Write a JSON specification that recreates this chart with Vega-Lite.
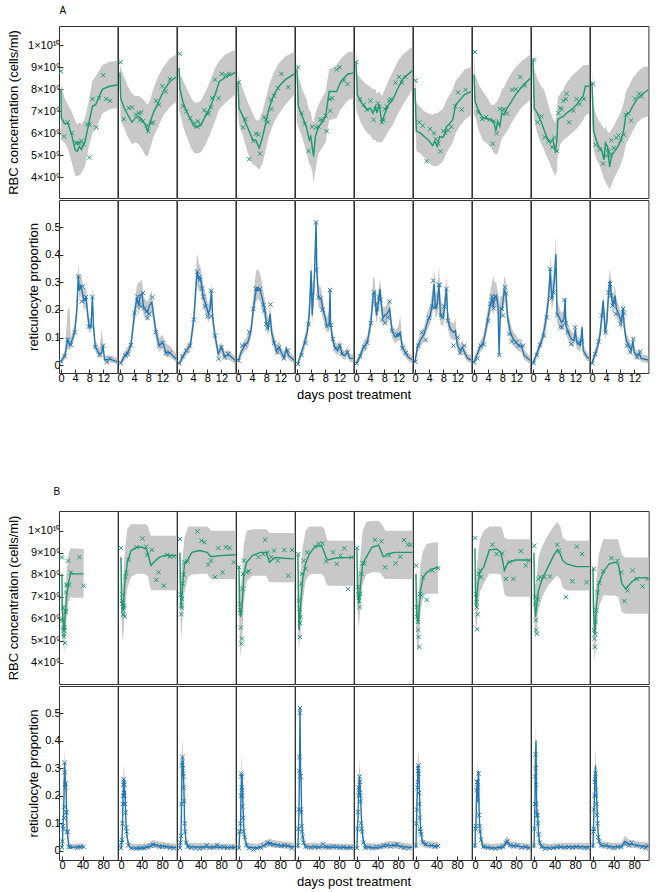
{
"$schema":"https://vega.github.io/schema/vega-lite/v6.json",
"padding":{"top":5,"left":7,"right":0,"bottom":0},
"config":{"font":"Liberation Sans","view":{"stroke":"#333","strokeWidth":1},
"axis":{"labelFontSize":11,"labelColor":"#000","titleFontSize":13,"titleFontWeight":"normal","titleColor":"#000","tickColor":"#333","tickSize":-4,"domain":false,"grid":false,"labelPadding":3,"labelFlush":false,"labelOverlap":false}},
"datasets":{
"ar":[
{"p":1,"t":0,"f":8e9,"l":6e9,"h":8.6e9},{"p":1,"t":0.1,"f":6.7e9,"l":5.7e9,"h":8.2e9},{"p":1,"t":1,"f":6.45e9,"l":5.6e9,"h":7.6e9},{"p":1,"t":2,"f":6.45e9,"l":5.3e9,"h":7.3e9},{"p":1,"t":3,"f":5.95e9,"l":4.7e9,"h":7e9},{"p":1,"t":4,"f":5.25e9,"l":4.1e9,"h":6.6e9},{"p":1,"t":4.6,"f":5.18e9,"l":4.05e9,"h":6.4e9},{"p":1,"t":5.2,"f":5.4e9,"l":4.1e9,"h":6.5e9},{"p":1,"t":5.8,"f":5.26e9,"l":4.2e9,"h":6.4e9},{"p":1,"t":6.8,"f":5.64e9,"l":4.5e9,"h":6.7e9},{"p":1,"t":7.9,"f":6.47e9,"l":5.4e9,"h":7.5e9},{"p":1,"t":8.9,"f":7.23e9,"l":6e9,"h":8.4e9},{"p":1,"t":9.8,"f":7.3e9,"l":6.2e9,"h":8.6e9},{"p":1,"t":11.7,"f":8e9,"l":6.9e9,"h":9.1e9},{"p":1,"t":13.7,"f":8.14e9,"l":7.1e9,"h":9.25e9},{"p":1,"t":15.95,"f":8.2e9,"l":7.15e9,"h":9.3e9},
{"p":1,"t":0,"o":8.82e9},{"p":1,"t":0.9,"o":5.86e9},{"p":1,"t":1.9,"o":6.5e9},{"p":1,"t":3.05,"o":6.02e9},{"p":1,"t":4.3,"o":5.56e9},{"p":1,"t":4.7,"o":5.56e9},{"p":1,"t":5.2,"o":5.56e9},{"p":1,"t":5.8,"o":5.65e9},{"p":1,"t":6.4,"o":5.5e9},{"p":1,"t":8,"o":4.9e9},{"p":1,"t":7.4,"o":6.4e9},{"p":1,"t":8.1,"o":6.4e9},{"p":1,"t":8.9,"o":7.56e9},{"p":1,"t":10,"o":6.27e9},{"p":1,"t":10.7,"o":7.6e9},{"p":1,"t":11.9,"o":8.64e9},{"p":1,"t":12.8,"o":7.56e9},{"p":1,"t":13.9,"o":7.48e9},
{"p":2,"t":0,"f":8.77e9,"l":7.6e9,"h":9.2e9},{"p":2,"t":0.2,"f":7.6e9,"l":6.6e9,"h":9e9},{"p":2,"t":1.1,"f":7.2e9,"l":6.3e9,"h":8.6e9},{"p":2,"t":2,"f":6.9e9,"l":5.9e9,"h":8.2e9},{"p":2,"t":3.4,"f":6.5e9,"l":5.5e9,"h":7.8e9},{"p":2,"t":4.35,"f":6.7e9,"l":5.6e9,"h":7.7e9},{"p":2,"t":5.3,"f":6.77e9,"l":5.5e9,"h":7.7e9},{"p":2,"t":6.2,"f":6.62e9,"l":5.3e9,"h":7.6e9},{"p":2,"t":7.1,"f":6.4e9,"l":5e9,"h":7.45e9},{"p":2,"t":7.8,"f":6.1e9,"l":4.95e9,"h":7.3e9},{"p":2,"t":8.5,"f":6.47e9,"l":5.3e9,"h":7.5e9},{"p":2,"t":9.4,"f":6.92e9,"l":5.8e9,"h":8e9},{"p":2,"t":10.8,"f":7.38e9,"l":6.3e9,"h":8.6e9},{"p":2,"t":12.2,"f":7.9e9,"l":6.8e9,"h":9e9},{"p":2,"t":14.1,"f":8.36e9,"l":7.2e9,"h":9.4e9},{"p":2,"t":15.95,"f":8.56e9,"l":7.45e9,"h":9.6e9},
{"p":2,"t":0.2,"o":9.23e9},{"p":2,"t":1.1,"o":6.65e9},{"p":2,"t":2.5,"o":7.15e9},{"p":2,"t":3.4,"o":7.18e9},{"p":2,"t":4.5,"o":6.85e9},{"p":2,"t":5.3,"o":6.92e9},{"p":2,"t":6,"o":6.95e9},{"p":2,"t":5.6,"o":6.6e9},{"p":2,"t":6.5,"o":6.55e9},{"p":2,"t":7.6,"o":6.35e9},{"p":2,"t":8,"o":6.1e9},{"p":2,"t":8.8,"o":6.47e9},{"p":2,"t":9.4,"o":6.5e9},{"p":2,"t":10.2,"o":7.48e9},{"p":2,"t":11,"o":7.3e9},{"p":2,"t":12,"o":8.14e9},{"p":2,"t":12.96,"o":7.9e9},{"p":2,"t":14.1,"o":8.47e9},
{"p":3,"t":0,"f":8.97e9,"l":7e9,"h":9.8e9},{"p":3,"t":0.3,"f":8e9,"l":6.9e9,"h":8.7e9},{"p":3,"t":1.2,"f":7.38e9,"l":6.3e9,"h":8.4e9},{"p":3,"t":2.3,"f":6.95e9,"l":5.8e9,"h":8e9},{"p":3,"t":3.5,"f":6.55e9,"l":5.3e9,"h":7.6e9},{"p":3,"t":4.4,"f":6.3e9,"l":5.1e9,"h":7.4e9},{"p":3,"t":5.4,"f":6.3e9,"l":5.1e9,"h":7.4e9},{"p":3,"t":6.3,"f":6.4e9,"l":5.15e9,"h":7.5e9},{"p":3,"t":7.2,"f":6.7e9,"l":5.4e9,"h":7.8e9},{"p":3,"t":8.1,"f":6.95e9,"l":5.7e9,"h":8.1e9},{"p":3,"t":9.1,"f":7.3e9,"l":6.1e9,"h":8.5e9},{"p":3,"t":10.3,"f":7.8e9,"l":6.6e9,"h":9e9},{"p":3,"t":11.4,"f":8.36e9,"l":7.1e9,"h":9.3e9},{"p":3,"t":13.2,"f":8.55e9,"l":7.4e9,"h":9.6e9},{"p":3,"t":15.95,"f":8.77e9,"l":7.76e9,"h":9.8e9},
{"p":3,"t":0.2,"o":9.62e9},{"p":3,"t":1.2,"o":7.23e9},{"p":3,"t":2.1,"o":7e9},{"p":3,"t":3.2,"o":6.7e9},{"p":3,"t":4.4,"o":6.47e9},{"p":3,"t":5.4,"o":6.55e9},{"p":3,"t":6,"o":6.4e9},{"p":3,"t":5.1,"o":6.3e9},{"p":3,"t":7.2,"o":7.05e9},{"p":3,"t":7.9,"o":6.9e9},{"p":3,"t":8.4,"o":6.92e9},{"p":3,"t":9.35,"o":7.6e9},{"p":3,"t":9.1,"o":7.18e9},{"p":3,"t":10.2,"o":8.44e9},{"p":3,"t":11.2,"o":7.6e9},{"p":3,"t":12.1,"o":8.7e9},{"p":3,"t":13.2,"o":8.64e9},{"p":3,"t":14.2,"o":8.7e9},
{"p":4,"t":0,"f":8.3e9,"l":7e9,"h":8.7e9},{"p":4,"t":0.3,"f":7.15e9,"l":6.4e9,"h":8.5e9},{"p":4,"t":1.4,"f":6.77e9,"l":5.9e9,"h":8e9},{"p":4,"t":2.8,"f":6.24e9,"l":5.1e9,"h":7.4e9},{"p":4,"t":4.2,"f":5.7e9,"l":4.6e9,"h":6.9e9},{"p":4,"t":5.1,"f":5.68e9,"l":4.5e9,"h":6.6e9},{"p":4,"t":6,"f":5.33e9,"l":4.35e9,"h":6.6e9},{"p":4,"t":6.9,"f":5.8e9,"l":4.6e9,"h":7e9},{"p":4,"t":7.9,"f":6.5e9,"l":5.3e9,"h":7.6e9},{"p":4,"t":8.8,"f":7.15e9,"l":5.9e9,"h":8.2e9},{"p":4,"t":10.2,"f":7.76e9,"l":6.5e9,"h":8.8e9},{"p":4,"t":11.6,"f":8.14e9,"l":6.9e9,"h":9.2e9},{"p":4,"t":13.4,"f":8.44e9,"l":7.3e9,"h":9.5e9},{"p":4,"t":15.95,"f":8.7e9,"l":7.76e9,"h":9.7e9},
{"p":4,"t":0.2,"o":8.32e9},{"p":4,"t":1.4,"o":6.27e9},{"p":4,"t":2.1,"o":6.65e9},{"p":4,"t":3.2,"o":4.83e9},{"p":4,"t":4.35,"o":5.64e9},{"p":4,"t":5.1,"o":5.98e9},{"p":4,"t":5.8,"o":5.94e9},{"p":4,"t":6.2,"o":5.08e9},{"p":4,"t":7.4,"o":6.73e9},{"p":4,"t":7.9,"o":6.62e9},{"p":4,"t":8.5,"o":6.5e9},{"p":4,"t":9.3,"o":7.53e9},{"p":4,"t":9.5,"o":7.1e9},{"p":4,"t":10.2,"o":7.7e9},{"p":4,"t":11.3,"o":8.06e9},{"p":4,"t":12.3,"o":8.7e9},{"p":4,"t":14.2,"o":8.1e9},
{"p":5,"t":0,"f":8.9e9,"l":6.5e9,"h":9.5e9},{"p":5,"t":0.4,"f":7.23e9,"l":6.3e9,"h":8.6e9},{"p":5,"t":1.5,"f":6.77e9,"l":5.8e9,"h":8e9},{"p":5,"t":2.6,"f":6.32e9,"l":5.2e9,"h":7.6e9},{"p":5,"t":3.5,"f":5.7e9,"l":4.6e9,"h":7e9},{"p":5,"t":3.9,"f":5.86e9,"l":4.5e9,"h":7e9},{"p":5,"t":4.3,"f":5.4e9,"l":4.3e9,"h":6.6e9},{"p":5,"t":4.7,"f":4.95e9,"l":3.75e9,"h":6.5e9},{"p":5,"t":5.2,"f":5.86e9,"l":4.3e9,"h":6.9e9},{"p":5,"t":6.1,"f":6.3e9,"l":5.1e9,"h":7.3e9},{"p":5,"t":7,"f":6.47e9,"l":5.3e9,"h":7.6e9},{"p":5,"t":8.1,"f":6.77e9,"l":5.6e9,"h":7.9e9},{"p":5,"t":9.1,"f":7.9e9,"l":6.6e9,"h":8.9e9},{"p":5,"t":11.2,"f":7.9e9,"l":6.7e9,"h":9.1e9},{"p":5,"t":12.4,"f":8.36e9,"l":7.1e9,"h":9.4e9},{"p":5,"t":14.4,"f":8.7e9,"l":7.5e9,"h":9.7e9},{"p":5,"t":15.95,"f":8.74e9,"l":7.6e9,"h":9.7e9},
{"p":5,"t":0.3,"o":9e9},{"p":5,"t":1.3,"o":6.92e9},{"p":5,"t":2.2,"o":6.42e9},{"p":5,"t":3.3,"o":5.2e9},{"p":5,"t":4.3,"o":6.3e9},{"p":5,"t":5.4,"o":6.27e9},{"p":5,"t":6.1,"o":6.3e9},{"p":5,"t":6.6,"o":6.62e9},{"p":5,"t":7.2,"o":6.62e9},{"p":5,"t":8.1,"o":6.8e9},{"p":5,"t":8.4,"o":6.1e9},{"p":5,"t":9.35,"o":7.56e9},{"p":5,"t":10,"o":7.6e9},{"p":5,"t":9.4,"o":7.03e9},{"p":5,"t":11.2,"o":8.9e9},{"p":5,"t":12.1,"o":9e9},{"p":5,"t":13.3,"o":8.4e9},{"p":5,"t":14.3,"o":8.24e9},
{"p":6,"t":0,"f":9.2e9,"l":7.2e9,"h":9.9e9},{"p":6,"t":0.4,"f":7.76e9,"l":6.9e9,"h":8.7e9},{"p":6,"t":1.3,"f":7.45e9,"l":6.5e9,"h":8.5e9},{"p":6,"t":2.4,"f":7.23e9,"l":6.2e9,"h":8.3e9},{"p":6,"t":3.3,"f":7.05e9,"l":6e9,"h":8.2e9},{"p":6,"t":4.1,"f":7.15e9,"l":5.9e9,"h":8.1e9},{"p":6,"t":4.8,"f":6.92e9,"l":5.7e9,"h":8e9},{"p":6,"t":5.5,"f":7.23e9,"l":5.7e9,"h":8e9},{"p":6,"t":5.9,"f":6.92e9,"l":5.6e9,"h":7.8e9},{"p":6,"t":6.6,"f":7.3e9,"l":5.6e9,"h":7.9e9},{"p":6,"t":7.3,"f":6.47e9,"l":5.6e9,"h":7.7e9},{"p":6,"t":8.2,"f":6.92e9,"l":5.8e9,"h":8e9},{"p":6,"t":9.2,"f":7.3e9,"l":6.1e9,"h":8.4e9},{"p":6,"t":10.4,"f":7.53e9,"l":6.4e9,"h":8.8e9},{"p":6,"t":11.9,"f":8.06e9,"l":6.9e9,"h":9.3e9},{"p":6,"t":13.3,"f":8.5e9,"l":7.3e9,"h":9.6e9},{"p":6,"t":15.95,"f":8.85e9,"l":7.98e9,"h":9.95e9},
{"p":6,"t":0.1,"o":9.24e9},{"p":6,"t":1.1,"o":7.56e9},{"p":6,"t":2.2,"o":7.3e9},{"p":6,"t":3.1,"o":7.08e9},{"p":6,"t":4.1,"o":7.48e9},{"p":6,"t":5,"o":6.62e9},{"p":6,"t":5.5,"o":7.1e9},{"p":6,"t":6.2,"o":7.35e9},{"p":6,"t":6.6,"o":7.23e9},{"p":6,"t":7.3,"o":6.5e9},{"p":6,"t":7.8,"o":6.6e9},{"p":6,"t":8.2,"o":7.1e9},{"p":6,"t":8.7,"o":7.23e9},{"p":6,"t":9.4,"o":7.48e9},{"p":6,"t":9.8,"o":7.56e9},{"p":6,"t":11.2,"o":8.3e9},{"p":6,"t":12.2,"o":8.56e9},{"p":6,"t":13,"o":8.3e9},{"p":6,"t":14,"o":8.56e9},
{"p":7,"t":0,"f":8.06e9,"l":7e9,"h":9.1e9},{"p":7,"t":0.4,"f":6.1e9,"l":5.2e9,"h":7.4e9},{"p":7,"t":1.5,"f":6.02e9,"l":5.1e9,"h":7.2e9},{"p":7,"t":2.6,"f":5.86e9,"l":4.9e9,"h":7e9},{"p":7,"t":3.8,"f":5.7e9,"l":4.7e9,"h":6.9e9},{"p":7,"t":5,"f":5.44e9,"l":4.5e9,"h":6.85e9},{"p":7,"t":5.6,"f":5.64e9,"l":4.5e9,"h":6.9e9},{"p":7,"t":6.3,"f":5.4e9,"l":4.5e9,"h":6.9e9},{"p":7,"t":7,"f":5.86e9,"l":4.6e9,"h":7e9},{"p":7,"t":7.8,"f":5.8e9,"l":4.7e9,"h":7.1e9},{"p":7,"t":8.4,"f":5.94e9,"l":4.9e9,"h":7.3e9},{"p":7,"t":8.9,"f":6.3e9,"l":5.1e9,"h":7.5e9},{"p":7,"t":9.6,"f":6.4e9,"l":5.3e9,"h":7.7e9},{"p":7,"t":10.7,"f":6.62e9,"l":5.6e9,"h":8e9},{"p":7,"t":11.5,"f":7.3e9,"l":6e9,"h":8.4e9},{"p":7,"t":12.6,"f":7.5e9,"l":6.3e9,"h":8.6e9},{"p":7,"t":14,"f":7.76e9,"l":6.6e9,"h":8.9e9},{"p":7,"t":15.95,"f":7.9e9,"l":6.85e9,"h":9e9},
{"p":7,"t":0.2,"o":8.4e9},{"p":7,"t":1.2,"o":6.5e9},{"p":7,"t":2.2,"o":6.35e9},{"p":7,"t":3.3,"o":4.73e9},{"p":7,"t":4.3,"o":6.2e9},{"p":7,"t":5.4,"o":6e9},{"p":7,"t":5.9,"o":5.74e9},{"p":7,"t":6.6,"o":5.53e9},{"p":7,"t":7.2,"o":5.18e9},{"p":7,"t":8,"o":6.1e9},{"p":7,"t":8.6,"o":6.02e9},{"p":7,"t":9.4,"o":6.14e9},{"p":7,"t":10.3,"o":6.3e9},{"p":7,"t":11.4,"o":7.23e9},{"p":7,"t":12.2,"o":7.86e9},{"p":7,"t":13.2,"o":7.08e9},{"p":7,"t":14.3,"o":7.98e9},
{"p":8,"t":0,"f":8.67e9,"l":6.8e9,"h":9.7e9},{"p":8,"t":0.3,"f":7.45e9,"l":6.8e9,"h":8.7e9},{"p":8,"t":1.4,"f":7e9,"l":6.1e9,"h":8.2e9},{"p":8,"t":2.5,"f":6.7e9,"l":5.7e9,"h":7.9e9},{"p":8,"t":3.9,"f":6.65e9,"l":5.5e9,"h":7.6e9},{"p":8,"t":4.8,"f":6.62e9,"l":5.35e9,"h":7.3e9},{"p":8,"t":5.7,"f":6.47e9,"l":5.1e9,"h":7.3e9},{"p":8,"t":6.2,"f":6.1e9,"l":5.03e9,"h":7.4e9},{"p":8,"t":6.7,"f":6.55e9,"l":5.1e9,"h":7.5e9},{"p":8,"t":7.3,"f":6.32e9,"l":5.4e9,"h":7.7e9},{"p":8,"t":7.9,"f":6.92e9,"l":5.8e9,"h":8e9},{"p":8,"t":8.5,"f":6.85e9,"l":5.9e9,"h":8.1e9},{"p":8,"t":9.4,"f":7.15e9,"l":6.1e9,"h":8.4e9},{"p":8,"t":10.4,"f":7.4e9,"l":6.4e9,"h":8.7e9},{"p":8,"t":11.8,"f":7.76e9,"l":6.8e9,"h":9e9},{"p":8,"t":13.6,"f":8.14e9,"l":7.2e9,"h":9.3e9},{"p":8,"t":15.95,"f":8.5e9,"l":7.53e9,"h":9.58e9},
{"p":8,"t":0.3,"o":9.7e9},{"p":8,"t":1.2,"o":6.95e9},{"p":8,"t":2.3,"o":6.65e9},{"p":8,"t":3.4,"o":6.74e9},{"p":8,"t":4.4,"o":6.62e9},{"p":8,"t":5.3,"o":5.53e9},{"p":8,"t":5.7,"o":6.55e9},{"p":8,"t":6.4,"o":6e9},{"p":8,"t":7.3,"o":7.1e9},{"p":8,"t":8.1,"o":7.05e9},{"p":8,"t":8.5,"o":7.1e9},{"p":8,"t":9.4,"o":6.9e9},{"p":8,"t":10.8,"o":7.98e9},{"p":8,"t":11.8,"o":8e9},{"p":8,"t":13.1,"o":8.56e9},{"p":8,"t":14.4,"o":8.17e9},
{"p":9,"t":0,"f":9.35e9,"l":7.1e9,"h":9.6e9},{"p":9,"t":0.4,"f":7.15e9,"l":6.6e9,"h":8.9e9},{"p":9,"t":1.2,"f":6.92e9,"l":6e9,"h":8.5e9},{"p":9,"t":2.1,"f":6.62e9,"l":5.6e9,"h":8.2e9},{"p":9,"t":3.1,"f":6.17e9,"l":5.26e9,"h":8e9},{"p":9,"t":4,"f":5.8e9,"l":4.9e9,"h":7.5e9},{"p":9,"t":4.9,"f":5.56e9,"l":4.6e9,"h":7e9},{"p":9,"t":5.6,"f":5.74e9,"l":4.3e9,"h":6.7e9},{"p":9,"t":6.3,"f":5.18e9,"l":4.05e9,"h":6.47e9},{"p":9,"t":6.8,"f":5.7e9,"l":4.3e9,"h":7e9},{"p":9,"t":7,"f":6.62e9,"l":5e9,"h":7.6e9},{"p":9,"t":7.7,"f":6.7e9,"l":5.5e9,"h":7.8e9},{"p":9,"t":8.6,"f":6.77e9,"l":5.7e9,"h":8e9},{"p":9,"t":9.5,"f":6.92e9,"l":5.8e9,"h":8.3e9},{"p":9,"t":10.9,"f":7.08e9,"l":6e9,"h":8.6e9},{"p":9,"t":12.3,"f":7.3e9,"l":6.2e9,"h":8.8e9},{"p":9,"t":14.2,"f":7.7e9,"l":6.6e9,"h":9.1e9},{"p":9,"t":14.8,"f":8.14e9,"l":6.8e9,"h":9.1e9},{"p":9,"t":15.95,"f":8.14e9,"l":6.92e9,"h":9.12e9},
{"p":9,"t":0.3,"o":9.35e9},{"p":9,"t":1.3,"o":6.5e9},{"p":9,"t":2.4,"o":6.77e9},{"p":9,"t":3.3,"o":5.82e9},{"p":9,"t":4.4,"o":5.64e9},{"p":9,"t":5.4,"o":5.38e9},{"p":9,"t":6.1,"o":5.8e9},{"p":9,"t":6.8,"o":5.2e9},{"p":9,"t":7.2,"o":6.92e9},{"p":9,"t":7.7,"o":7.15e9},{"p":9,"t":8.1,"o":7.1e9},{"p":9,"t":8.6,"o":7.48e9},{"p":9,"t":9.3,"o":7.56e9},{"p":9,"t":9.5,"o":7.8e9},{"p":9,"t":10.2,"o":6.5e9},{"p":9,"t":11.4,"o":7.03e9},{"p":9,"t":12.3,"o":7.56e9},{"p":9,"t":13.2,"o":7.33e9},{"p":9,"t":14.4,"o":7.56e9},
{"p":10,"t":0,"f":8.3e9,"l":6.47e9,"h":8.9e9},{"p":10,"t":0.5,"f":6.1e9,"l":5.2e9,"h":7.2e9},{"p":10,"t":1.3,"f":5.64e9,"l":4.8e9,"h":6.8e9},{"p":10,"t":1.9,"f":5.4e9,"l":4.65e9,"h":6.6e9},{"p":10,"t":2.7,"f":5.26e9,"l":4.3e9,"h":6.4e9},{"p":10,"t":3.4,"f":4.8e9,"l":3.9e9,"h":6.2e9},{"p":10,"t":3.8,"f":5.56e9,"l":3.8e9,"h":6.3e9},{"p":10,"t":4.4,"f":5.4e9,"l":3.6e9,"h":6.1e9},{"p":10,"t":5,"f":4.47e9,"l":3.44e9,"h":6e9},{"p":10,"t":5.6,"f":5.03e9,"l":3.7e9,"h":6.2e9},{"p":10,"t":6.4,"f":5.18e9,"l":4e9,"h":6.4e9},{"p":10,"t":7.3,"f":5.4e9,"l":4.3e9,"h":6.7e9},{"p":10,"t":8.2,"f":5.7e9,"l":4.6e9,"h":7e9},{"p":10,"t":9,"f":6.17e9,"l":5e9,"h":7.4e9},{"p":10,"t":9.6,"f":6.85e9,"l":5.5e9,"h":7.9e9},{"p":10,"t":10.6,"f":6.95e9,"l":5.8e9,"h":8.2e9},{"p":10,"t":11.5,"f":7.23e9,"l":6.1e9,"h":8.5e9},{"p":10,"t":12.9,"f":7.6e9,"l":6.5e9,"h":8.8e9},{"p":10,"t":14.3,"f":7.8e9,"l":6.7e9,"h":9e9},{"p":10,"t":15.95,"f":7.98e9,"l":6.77e9,"h":9.05e9},
{"p":10,"t":0.3,"o":8.26e9},{"p":10,"t":1,"o":5.48e9},{"p":10,"t":2.2,"o":5.26e9},{"p":10,"t":3.1,"o":4.62e9},{"p":10,"t":4.1,"o":4.98e9},{"p":10,"t":4.4,"o":5.23e9},{"p":10,"t":4.8,"o":5.18e9},{"p":10,"t":5.3,"o":5.03e9},{"p":10,"t":5.5,"o":5.68e9},{"p":10,"t":6.2,"o":5.33e9},{"p":10,"t":6.9,"o":5.8e9},{"p":10,"t":7.5,"o":5.9e9},{"p":10,"t":8.2,"o":5.68e9},{"p":10,"t":9,"o":5.94e9},{"p":10,"t":9.6,"o":6.85e9},{"p":10,"t":10.3,"o":6.9e9},{"p":10,"t":11,"o":6.58e9},{"p":10,"t":12.1,"o":7.58e9},{"p":10,"t":13.3,"o":7.8e9},{"p":10,"t":14,"o":7.68e9}
],
"aq":[
{"p":1,"t":0,"f":0.014,"l":0.005,"h":0.025},{"p":1,"t":1.1,"f":0.035,"l":0.02,"h":0.05},{"p":1,"t":1.9,"f":0.092,"l":0.06,"h":0.2},{"p":1,"t":2.4,"f":0.075,"l":0.055,"h":0.21},{"p":1,"t":2.8,"f":0.078,"l":0.06,"h":0.1},{"p":1,"t":3.9,"f":0.12,"l":0.1,"h":0.15},{"p":1,"t":4.5,"f":0.2,"l":0.17,"h":0.26},{"p":1,"t":4.9,"f":0.322,"l":0.28,"h":0.37},{"p":1,"t":5.2,"f":0.27,"l":0.24,"h":0.32},{"p":1,"t":5.6,"f":0.29,"l":0.25,"h":0.33},{"p":1,"t":6.1,"f":0.26,"l":0.23,"h":0.3},{"p":1,"t":6.5,"f":0.235,"l":0.2,"h":0.28},{"p":1,"t":7.1,"f":0.245,"l":0.21,"h":0.28},{"p":1,"t":7.9,"f":0.14,"l":0.12,"h":0.17},{"p":1,"t":8.5,"f":0.14,"l":0.12,"h":0.17},{"p":1,"t":8.9,"f":0.247,"l":0.2,"h":0.29},{"p":1,"t":9.2,"f":0.14,"l":0.12,"h":0.17},{"p":1,"t":9.7,"f":0.066,"l":0.05,"h":0.09},{"p":1,"t":10.9,"f":0.04,"l":0.025,"h":0.06},{"p":1,"t":11.5,"f":0.045,"l":0.03,"h":0.13},{"p":1,"t":11.9,"f":0.071,"l":0.05,"h":0.09},{"p":1,"t":12.3,"f":0.02,"l":0.01,"h":0.035},{"p":1,"t":13.9,"f":0.022,"l":0.01,"h":0.035},{"p":1,"t":15.95,"f":0.012,"l":0.005,"h":0.025},
{"p":1,"t":0,"o":0.014},{"p":1,"t":1.1,"o":0.032},{"p":1,"t":1.9,"o":0.092},{"p":1,"t":2.8,"o":0.074},{"p":1,"t":3.9,"o":0.119},{"p":1,"t":4.9,"o":0.322},{"p":1,"t":5.4,"o":0.283},{"p":1,"t":6.1,"o":0.285},{"p":1,"t":5.9,"o":0.231},{"p":1,"t":6.7,"o":0.237},{"p":1,"t":7.1,"o":0.247},{"p":1,"t":7.9,"o":0.14},{"p":1,"t":8.5,"o":0.14},{"p":1,"t":8.9,"o":0.247},{"p":1,"t":9.7,"o":0.066},{"p":1,"t":10.9,"o":0.038},{"p":1,"t":11.9,"o":0.071},{"p":1,"t":13,"o":0.011},{"p":1,"t":13.9,"o":0.024},
{"p":2,"t":0.2,"f":0.008,"l":0,"h":0.02},{"p":2,"t":1.1,"f":0.029,"l":0.015,"h":0.045},{"p":2,"t":2.2,"f":0.047,"l":0.03,"h":0.065},{"p":2,"t":3.1,"f":0.071,"l":0.05,"h":0.095},{"p":2,"t":4.1,"f":0.186,"l":0.15,"h":0.22},{"p":2,"t":4.8,"f":0.246,"l":0.21,"h":0.29},{"p":2,"t":5.3,"f":0.216,"l":0.18,"h":0.3},{"p":2,"t":5.7,"f":0.252,"l":0.21,"h":0.3},{"p":2,"t":6.2,"f":0.258,"l":0.22,"h":0.31},{"p":2,"t":6.7,"f":0.21,"l":0.18,"h":0.25},{"p":2,"t":7.1,"f":0.204,"l":0.17,"h":0.24},{"p":2,"t":7.8,"f":0.19,"l":0.16,"h":0.23},{"p":2,"t":8.3,"f":0.216,"l":0.18,"h":0.25},{"p":2,"t":9,"f":0.228,"l":0.19,"h":0.27},{"p":2,"t":9.4,"f":0.19,"l":0.16,"h":0.22},{"p":2,"t":10.2,"f":0.119,"l":0.09,"h":0.14},{"p":2,"t":11.1,"f":0.071,"l":0.05,"h":0.1},{"p":2,"t":12,"f":0.083,"l":0.06,"h":0.11},{"p":2,"t":13,"f":0.047,"l":0.03,"h":0.08},{"p":2,"t":14.1,"f":0.045,"l":0.03,"h":0.07},{"p":2,"t":15.95,"f":0.022,"l":0.01,"h":0.04},
{"p":2,"t":0.2,"o":0.008},{"p":2,"t":1.6,"o":0.035},{"p":2,"t":2.2,"o":0.041},{"p":2,"t":3.1,"o":0.073},{"p":2,"t":4.1,"o":0.189},{"p":2,"t":5,"o":0.249},{"p":2,"t":5.5,"o":0.218},{"p":2,"t":6.5,"o":0.261},{"p":2,"t":5.9,"o":0.212},{"p":2,"t":6.85,"o":0.206},{"p":2,"t":7.4,"o":0.195},{"p":2,"t":7.8,"o":0.171},{"p":2,"t":8.3,"o":0.186},{"p":2,"t":9.2,"o":0.246},{"p":2,"t":10.1,"o":0.119},{"p":2,"t":11.1,"o":0.071},{"p":2,"t":12,"o":0.081},{"p":2,"t":13,"o":0.043},{"p":2,"t":14.1,"o":0.045},
{"p":3,"t":0.1,"f":0.005,"l":0,"h":0.015},{"p":3,"t":1,"f":0.029,"l":0.015,"h":0.045},{"p":3,"t":2.1,"f":0.053,"l":0.035,"h":0.07},{"p":3,"t":3.2,"f":0.071,"l":0.05,"h":0.09},{"p":3,"t":4.2,"f":0.167,"l":0.13,"h":0.2},{"p":3,"t":5.1,"f":0.339,"l":0.29,"h":0.408},{"p":3,"t":5.6,"f":0.312,"l":0.27,"h":0.37},{"p":3,"t":6,"f":0.318,"l":0.27,"h":0.36},{"p":3,"t":6.5,"f":0.282,"l":0.24,"h":0.33},{"p":3,"t":6.9,"f":0.246,"l":0.21,"h":0.29},{"p":3,"t":7.7,"f":0.216,"l":0.18,"h":0.25},{"p":3,"t":8.3,"f":0.186,"l":0.155,"h":0.22},{"p":3,"t":8.8,"f":0.204,"l":0.17,"h":0.25},{"p":3,"t":9.2,"f":0.27,"l":0.22,"h":0.3},{"p":3,"t":9.5,"f":0.173,"l":0.14,"h":0.2},{"p":3,"t":10.2,"f":0.107,"l":0.08,"h":0.13},{"p":3,"t":11.1,"f":0.041,"l":0.025,"h":0.06},{"p":3,"t":12,"f":0.065,"l":0.045,"h":0.085},{"p":3,"t":12.9,"f":0.033,"l":0.02,"h":0.05},{"p":3,"t":14.1,"f":0.037,"l":0.02,"h":0.055},{"p":3,"t":15.95,"f":0.017,"l":0.005,"h":0.03},
{"p":3,"t":0.1,"o":0.007},{"p":3,"t":1,"o":0.033},{"p":3,"t":2.1,"o":0.053},{"p":3,"t":3.1,"o":0.071},{"p":3,"t":4.2,"o":0.165},{"p":3,"t":5.2,"o":0.339},{"p":3,"t":5.6,"o":0.318},{"p":3,"t":6,"o":0.31},{"p":3,"t":6.5,"o":0.278},{"p":3,"t":6.9,"o":0.248},{"p":3,"t":7.4,"o":0.213},{"p":3,"t":8.1,"o":0.177},{"p":3,"t":9.1,"o":0.177},{"p":3,"t":9.1,"o":0.27},{"p":3,"t":10.2,"o":0.107},{"p":3,"t":11.2,"o":0.023},{"p":3,"t":12,"o":0.065},{"p":3,"t":12.9,"o":0.029},{"p":3,"t":13.9,"o":0.041},
{"p":4,"t":0.1,"f":0.017,"l":0.005,"h":0.03},{"p":4,"t":0.9,"f":0.047,"l":0.03,"h":0.065},{"p":4,"t":1.85,"f":0.071,"l":0.05,"h":0.09},{"p":4,"t":2.8,"f":0.083,"l":0.06,"h":0.11},{"p":4,"t":3.7,"f":0.125,"l":0.1,"h":0.15},{"p":4,"t":4.35,"f":0.204,"l":0.17,"h":0.26},{"p":4,"t":5.1,"f":0.27,"l":0.23,"h":0.34},{"p":4,"t":5.7,"f":0.276,"l":0.24,"h":0.348},{"p":4,"t":6.3,"f":0.27,"l":0.23,"h":0.33},{"p":4,"t":6.9,"f":0.24,"l":0.2,"h":0.29},{"p":4,"t":7.6,"f":0.198,"l":0.165,"h":0.24},{"p":4,"t":8.1,"f":0.149,"l":0.12,"h":0.19},{"p":4,"t":8.6,"f":0.137,"l":0.11,"h":0.17},{"p":4,"t":9.1,"f":0.186,"l":0.15,"h":0.23},{"p":4,"t":9.5,"f":0.119,"l":0.09,"h":0.15},{"p":4,"t":10.2,"f":0.083,"l":0.06,"h":0.11},{"p":4,"t":10.9,"f":0.053,"l":0.035,"h":0.075},{"p":4,"t":11.6,"f":0.065,"l":0.045,"h":0.09},{"p":4,"t":12.2,"f":0.047,"l":0.03,"h":0.065},{"p":4,"t":13,"f":0.029,"l":0.015,"h":0.05},{"p":4,"t":13.7,"f":0.059,"l":0.035,"h":0.075},{"p":4,"t":14.3,"f":0.035,"l":0.02,"h":0.05},{"p":4,"t":15.95,"f":0.017,"l":0.005,"h":0.03},
{"p":4,"t":0.2,"o":0.017},{"p":4,"t":1.2,"o":0.071},{"p":4,"t":2,"o":0.075},{"p":4,"t":3.2,"o":0.119},{"p":4,"t":4.35,"o":0.204},{"p":4,"t":5.1,"o":0.276},{"p":4,"t":5.5,"o":0.278},{"p":4,"t":6.2,"o":0.276},{"p":4,"t":7.2,"o":0.218},{"p":4,"t":7.4,"o":0.198},{"p":4,"t":8,"o":0.149},{"p":4,"t":8.3,"o":0.134},{"p":4,"t":9.2,"o":0.22},{"p":4,"t":10.2,"o":0.081},{"p":4,"t":11.1,"o":0.047},{"p":4,"t":11.6,"o":0.065},{"p":4,"t":13,"o":0.025},{"p":4,"t":14.1,"o":0.053},
{"p":5,"t":0.2,"f":0.005,"l":0,"h":0.015},{"p":5,"t":1,"f":0.035,"l":0.02,"h":0.05},{"p":5,"t":1.9,"f":0.071,"l":0.05,"h":0.09},{"p":5,"t":2.9,"f":0.119,"l":0.09,"h":0.15},{"p":5,"t":3.5,"f":0.186,"l":0.15,"h":0.24},{"p":5,"t":4,"f":0.342,"l":0.27,"h":0.38},{"p":5,"t":4.3,"f":0.18,"l":0.15,"h":0.3},{"p":5,"t":4.7,"f":0.264,"l":0.22,"h":0.3},{"p":5,"t":5,"f":0.342,"l":0.29,"h":0.4},{"p":5,"t":5.4,"f":0.517,"l":0.45,"h":0.565},{"p":5,"t":5.6,"f":0.342,"l":0.29,"h":0.4},{"p":5,"t":6.1,"f":0.246,"l":0.21,"h":0.29},{"p":5,"t":6.8,"f":0.242,"l":0.2,"h":0.28},{"p":5,"t":7.3,"f":0.204,"l":0.17,"h":0.24},{"p":5,"t":8,"f":0.173,"l":0.14,"h":0.2},{"p":5,"t":8.4,"f":0.143,"l":0.12,"h":0.17},{"p":5,"t":9.1,"f":0.146,"l":0.12,"h":0.2},{"p":5,"t":9.35,"f":0.27,"l":0.22,"h":0.31},{"p":5,"t":9.5,"f":0.146,"l":0.12,"h":0.18},{"p":5,"t":10.1,"f":0.095,"l":0.07,"h":0.12},{"p":5,"t":10.7,"f":0.065,"l":0.045,"h":0.085},{"p":5,"t":11.5,"f":0.053,"l":0.035,"h":0.075},{"p":5,"t":12.1,"f":0.071,"l":0.05,"h":0.09},{"p":5,"t":12.8,"f":0.041,"l":0.025,"h":0.06},{"p":5,"t":13.5,"f":0.035,"l":0.02,"h":0.05},{"p":5,"t":14.3,"f":0.049,"l":0.03,"h":0.07},{"p":5,"t":14.9,"f":0.025,"l":0.012,"h":0.04},{"p":5,"t":15.95,"f":0.025,"l":0.012,"h":0.04},
{"p":5,"t":0.3,"o":0.005},{"p":5,"t":1.3,"o":0.037},{"p":5,"t":2.4,"o":0.081},{"p":5,"t":3.3,"o":0.149},{"p":5,"t":4.3,"o":0.258},{"p":5,"t":5.4,"o":0.517},{"p":5,"t":5.5,"o":0.345},{"p":5,"t":6.1,"o":0.246},{"p":5,"t":6.6,"o":0.242},{"p":5,"t":7.2,"o":0.201},{"p":5,"t":8.4,"o":0.141},{"p":5,"t":9.35,"o":0.272},{"p":5,"t":9.6,"o":0.146},{"p":5,"t":10.1,"o":0.095},{"p":5,"t":10.9,"o":0.061},{"p":5,"t":12.1,"o":0.071},{"p":5,"t":12.6,"o":0.041},{"p":5,"t":14.3,"o":0.047},
{"p":6,"t":0.1,"f":0.008,"l":0,"h":0.02},{"p":6,"t":0.9,"f":0.025,"l":0.012,"h":0.04},{"p":6,"t":2.1,"f":0.065,"l":0.045,"h":0.085},{"p":6,"t":3.2,"f":0.083,"l":0.06,"h":0.105},{"p":6,"t":4.2,"f":0.153,"l":0.12,"h":0.19},{"p":6,"t":4.9,"f":0.258,"l":0.22,"h":0.324},{"p":6,"t":5.3,"f":0.264,"l":0.22,"h":0.31},{"p":6,"t":5.8,"f":0.18,"l":0.15,"h":0.22},{"p":6,"t":6.2,"f":0.216,"l":0.18,"h":0.26},{"p":6,"t":6.8,"f":0.276,"l":0.23,"h":0.315},{"p":6,"t":7.1,"f":0.228,"l":0.19,"h":0.27},{"p":6,"t":7.6,"f":0.173,"l":0.14,"h":0.21},{"p":6,"t":8.1,"f":0.18,"l":0.15,"h":0.21},{"p":6,"t":8.8,"f":0.186,"l":0.155,"h":0.22},{"p":6,"t":9.5,"f":0.204,"l":0.17,"h":0.24},{"p":6,"t":10.2,"f":0.125,"l":0.1,"h":0.15},{"p":6,"t":11.1,"f":0.101,"l":0.08,"h":0.125},{"p":6,"t":12,"f":0.113,"l":0.09,"h":0.14},{"p":6,"t":12.5,"f":0.119,"l":0.09,"h":0.18},{"p":6,"t":13.1,"f":0.065,"l":0.045,"h":0.09},{"p":6,"t":13.9,"f":0.047,"l":0.03,"h":0.07},{"p":6,"t":14.8,"f":0.029,"l":0.015,"h":0.045},{"p":6,"t":15.95,"f":0.02,"l":0.008,"h":0.035},
{"p":6,"t":0.2,"o":0.007},{"p":6,"t":1.2,"o":0.033},{"p":6,"t":2.3,"o":0.065},{"p":6,"t":3.2,"o":0.081},{"p":6,"t":4.2,"o":0.153},{"p":6,"t":5.1,"o":0.264},{"p":6,"t":5.6,"o":0.222},{"p":6,"t":6,"o":0.204},{"p":6,"t":6.5,"o":0.246},{"p":6,"t":6.9,"o":0.237},{"p":6,"t":7.4,"o":0.165},{"p":6,"t":8.3,"o":0.153},{"p":6,"t":9,"o":0.173},{"p":6,"t":9.5,"o":0.23},{"p":6,"t":10.2,"o":0.125},{"p":6,"t":11.6,"o":0.11},{"p":6,"t":12.2,"o":0.11},{"p":6,"t":13.1,"o":0.061},{"p":6,"t":14.1,"o":0.045},
{"p":7,"t":0,"f":0.011,"l":0,"h":0.025},{"p":7,"t":0.7,"f":0.065,"l":0.045,"h":0.085},{"p":7,"t":1.7,"f":0.095,"l":0.07,"h":0.12},{"p":7,"t":2.6,"f":0.113,"l":0.09,"h":0.14},{"p":7,"t":3.5,"f":0.155,"l":0.125,"h":0.19},{"p":7,"t":4.3,"f":0.18,"l":0.15,"h":0.22},{"p":7,"t":4.9,"f":0.216,"l":0.18,"h":0.27},{"p":7,"t":5.4,"f":0.294,"l":0.24,"h":0.354},{"p":7,"t":5.8,"f":0.204,"l":0.17,"h":0.26},{"p":7,"t":6.3,"f":0.222,"l":0.18,"h":0.27},{"p":7,"t":6.8,"f":0.288,"l":0.24,"h":0.36},{"p":7,"t":7.2,"f":0.18,"l":0.15,"h":0.25},{"p":7,"t":8,"f":0.173,"l":0.14,"h":0.21},{"p":7,"t":8.4,"f":0.216,"l":0.18,"h":0.26},{"p":7,"t":8.9,"f":0.276,"l":0.23,"h":0.32},{"p":7,"t":9.3,"f":0.161,"l":0.13,"h":0.2},{"p":7,"t":10,"f":0.131,"l":0.1,"h":0.16},{"p":7,"t":10.9,"f":0.119,"l":0.09,"h":0.15},{"p":7,"t":11.4,"f":0.125,"l":0.1,"h":0.17},{"p":7,"t":12,"f":0.071,"l":0.05,"h":0.1},{"p":7,"t":12.8,"f":0.053,"l":0.035,"h":0.075},{"p":7,"t":13.4,"f":0.065,"l":0.045,"h":0.09},{"p":7,"t":14.2,"f":0.041,"l":0.025,"h":0.06},{"p":7,"t":14.9,"f":0.025,"l":0.012,"h":0.04},{"p":7,"t":15.95,"f":0.019,"l":0.008,"h":0.035},
{"p":7,"t":0.1,"o":0.013},{"p":7,"t":0.9,"o":0.071},{"p":7,"t":1.9,"o":0.119},{"p":7,"t":3,"o":0.092},{"p":7,"t":4,"o":0.171},{"p":7,"t":4.9,"o":0.213},{"p":7,"t":5.2,"o":0.306},{"p":7,"t":5.6,"o":0.21},{"p":7,"t":6,"o":0.216},{"p":7,"t":6.8,"o":0.292},{"p":7,"t":6.9,"o":0.29},{"p":7,"t":7.3,"o":0.182},{"p":7,"t":7.7,"o":0.173},{"p":7,"t":8.3,"o":0.213},{"p":7,"t":8.9,"o":0.276},{"p":7,"t":9.3,"o":0.161},{"p":7,"t":10.9,"o":0.071},{"p":7,"t":12,"o":0.101},{"p":7,"t":12.8,"o":0.045},{"p":7,"t":13.9,"o":0.071},
{"p":8,"t":0,"f":0.011,"l":0,"h":0.025},{"p":8,"t":0.7,"f":0.033,"l":0.02,"h":0.05},{"p":8,"t":1.7,"f":0.065,"l":0.045,"h":0.085},{"p":8,"t":2.6,"f":0.081,"l":0.06,"h":0.105},{"p":8,"t":3.5,"f":0.137,"l":0.11,"h":0.17},{"p":8,"t":4.4,"f":0.204,"l":0.17,"h":0.25},{"p":8,"t":5.1,"f":0.246,"l":0.21,"h":0.3},{"p":8,"t":5.5,"f":0.21,"l":0.18,"h":0.324},{"p":8,"t":5.8,"f":0.246,"l":0.21,"h":0.3},{"p":8,"t":6.3,"f":0.252,"l":0.21,"h":0.3},{"p":8,"t":6.8,"f":0.216,"l":0.18,"h":0.26},{"p":8,"t":7.1,"f":0.041,"l":0.03,"h":0.22},{"p":8,"t":7.5,"f":0.204,"l":0.17,"h":0.25},{"p":8,"t":7.96,"f":0.204,"l":0.17,"h":0.25},{"p":8,"t":8.6,"f":0.276,"l":0.23,"h":0.324},{"p":8,"t":9.1,"f":0.252,"l":0.21,"h":0.3},{"p":8,"t":9.5,"f":0.173,"l":0.14,"h":0.21},{"p":8,"t":10.3,"f":0.119,"l":0.09,"h":0.15},{"p":8,"t":11.1,"f":0.095,"l":0.07,"h":0.12},{"p":8,"t":11.9,"f":0.083,"l":0.06,"h":0.11},{"p":8,"t":12.6,"f":0.071,"l":0.05,"h":0.095},{"p":8,"t":13.4,"f":0.071,"l":0.05,"h":0.095},{"p":8,"t":14.2,"f":0.035,"l":0.02,"h":0.055},{"p":8,"t":15.95,"f":0.017,"l":0.005,"h":0.03},
{"p":8,"t":0.1,"o":0.011},{"p":8,"t":1,"o":0.025},{"p":8,"t":1.9,"o":0.071},{"p":8,"t":2.8,"o":0.075},{"p":8,"t":4,"o":0.161},{"p":8,"t":4.7,"o":0.222},{"p":8,"t":5.1,"o":0.249},{"p":8,"t":5.6,"o":0.206},{"p":8,"t":6,"o":0.249},{"p":8,"t":6.4,"o":0.24},{"p":8,"t":7.2,"o":0.037},{"p":8,"t":7.9,"o":0.204},{"p":8,"t":8.2,"o":0.18},{"p":8,"t":8.8,"o":0.282},{"p":8,"t":9.1,"o":0.26},{"p":8,"t":10,"o":0.113},{"p":8,"t":10.7,"o":0.086},{"p":8,"t":11.9,"o":0.083},{"p":8,"t":12.6,"o":0.071},{"p":8,"t":13.9,"o":0.071},
{"p":9,"t":0,"f":0.007,"l":0,"h":0.02},{"p":9,"t":0.9,"f":0.035,"l":0.02,"h":0.05},{"p":9,"t":1.9,"f":0.071,"l":0.05,"h":0.09},{"p":9,"t":2.8,"f":0.101,"l":0.08,"h":0.13},{"p":9,"t":3.7,"f":0.167,"l":0.13,"h":0.2},{"p":9,"t":4.4,"f":0.24,"l":0.2,"h":0.29},{"p":9,"t":4.9,"f":0.348,"l":0.29,"h":0.396},{"p":9,"t":5.3,"f":0.24,"l":0.2,"h":0.3},{"p":9,"t":5.7,"f":0.264,"l":0.22,"h":0.31},{"p":9,"t":6,"f":0.3,"l":0.25,"h":0.36},{"p":9,"t":6.5,"f":0.402,"l":0.33,"h":0.469},{"p":9,"t":6.8,"f":0.186,"l":0.155,"h":0.24},{"p":9,"t":7.4,"f":0.173,"l":0.14,"h":0.21},{"p":9,"t":8.1,"f":0.155,"l":0.125,"h":0.19},{"p":9,"t":8.8,"f":0.167,"l":0.135,"h":0.2},{"p":9,"t":9.1,"f":0.24,"l":0.19,"h":0.27},{"p":9,"t":9.3,"f":0.143,"l":0.115,"h":0.18},{"p":9,"t":10,"f":0.119,"l":0.09,"h":0.15},{"p":9,"t":10.8,"f":0.095,"l":0.07,"h":0.12},{"p":9,"t":11.6,"f":0.089,"l":0.065,"h":0.115},{"p":9,"t":12,"f":0.131,"l":0.1,"h":0.16},{"p":9,"t":12.3,"f":0.083,"l":0.06,"h":0.11},{"p":9,"t":13.4,"f":0.071,"l":0.05,"h":0.095},{"p":9,"t":13.9,"f":0.137,"l":0.1,"h":0.16},{"p":9,"t":14.2,"f":0.053,"l":0.035,"h":0.075},{"p":9,"t":15.3,"f":0.029,"l":0.015,"h":0.045},{"p":9,"t":15.95,"f":0.025,"l":0.012,"h":0.04},
{"p":9,"t":0.2,"o":0.008},{"p":9,"t":1.1,"o":0.037},{"p":9,"t":2,"o":0.073},{"p":9,"t":3.1,"o":0.107},{"p":9,"t":3.9,"o":0.173},{"p":9,"t":4.9,"o":0.348},{"p":9,"t":5.3,"o":0.242},{"p":9,"t":5.8,"o":0.264},{"p":9,"t":6.9,"o":0.182},{"p":9,"t":7.8,"o":0.14},{"p":9,"t":8.2,"o":0.137},{"p":9,"t":8.9,"o":0.236},{"p":9,"t":9.2,"o":0.153},{"p":9,"t":9.8,"o":0.119},{"p":9,"t":10.8,"o":0.077},{"p":9,"t":11.9,"o":0.137},{"p":9,"t":13.1,"o":0.083},{"p":9,"t":13.8,"o":0.086},
{"p":10,"t":0,"f":0.007,"l":0,"h":0.02},{"p":10,"t":0.9,"f":0.041,"l":0.025,"h":0.06},{"p":10,"t":1.7,"f":0.071,"l":0.05,"h":0.095},{"p":10,"t":2.3,"f":0.113,"l":0.09,"h":0.14},{"p":10,"t":2.8,"f":0.18,"l":0.14,"h":0.22},{"p":10,"t":3.2,"f":0.234,"l":0.19,"h":0.25},{"p":10,"t":3.7,"f":0.119,"l":0.09,"h":0.16},{"p":10,"t":4.2,"f":0.155,"l":0.12,"h":0.2},{"p":10,"t":4.7,"f":0.264,"l":0.22,"h":0.31},{"p":10,"t":5.1,"f":0.306,"l":0.26,"h":0.348},{"p":10,"t":5.6,"f":0.24,"l":0.2,"h":0.28},{"p":10,"t":6,"f":0.216,"l":0.18,"h":0.25},{"p":10,"t":6.5,"f":0.252,"l":0.21,"h":0.29},{"p":10,"t":6.9,"f":0.204,"l":0.17,"h":0.24},{"p":10,"t":7.7,"f":0.18,"l":0.15,"h":0.21},{"p":10,"t":8.3,"f":0.155,"l":0.125,"h":0.19},{"p":10,"t":8.8,"f":0.204,"l":0.17,"h":0.24},{"p":10,"t":9.1,"f":0.143,"l":0.115,"h":0.18},{"p":10,"t":9.7,"f":0.089,"l":0.065,"h":0.115},{"p":10,"t":10.5,"f":0.071,"l":0.05,"h":0.095},{"p":10,"t":11.1,"f":0.053,"l":0.035,"h":0.075},{"p":10,"t":11.6,"f":0.089,"l":0.065,"h":0.11},{"p":10,"t":11.9,"f":0.047,"l":0.03,"h":0.07},{"p":10,"t":12.7,"f":0.035,"l":0.02,"h":0.05},{"p":10,"t":13.4,"f":0.043,"l":0.025,"h":0.06},{"p":10,"t":13.9,"f":0.025,"l":0.012,"h":0.04},{"p":10,"t":15.95,"f":0.019,"l":0.008,"h":0.035},
{"p":10,"t":0.1,"o":0.007},{"p":10,"t":0.9,"o":0.041},{"p":10,"t":1.9,"o":0.086},{"p":10,"t":2.8,"o":0.18},{"p":10,"t":3.9,"o":0.119},{"p":10,"t":4.7,"o":0.264},{"p":10,"t":5.1,"o":0.294},{"p":10,"t":5.4,"o":0.252},{"p":10,"t":5.8,"o":0.216},{"p":10,"t":6.3,"o":0.23},{"p":10,"t":6.8,"o":0.186},{"p":10,"t":8.1,"o":0.149},{"p":10,"t":8.8,"o":0.204},{"p":10,"t":9.1,"o":0.188},{"p":10,"t":9.9,"o":0.071},{"p":10,"t":10.8,"o":0.047},{"p":10,"t":11.7,"o":0.095},{"p":10,"t":12.8,"o":0.029},{"p":10,"t":13.6,"o":0.049}
],
"br":[
{"p":1,"t":0,"f":8.04e9,"l":7.3e9,"h":8.8e9},{"p":1,"t":0.5,"f":6.4e9,"l":5.6e9,"h":7.2e9},{"p":1,"t":2,"f":5.95e9,"l":5e9,"h":6.8e9},{"p":1,"t":4.4,"f":5.48e9,"l":4.4e9,"h":6.5e9},{"p":1,"t":6,"f":6e9,"l":5.2e9,"h":7e9},{"p":1,"t":7.3,"f":6.4e9,"l":5.4e9,"h":7.5e9},{"p":1,"t":9.5,"f":7.16e9,"l":6.2e9,"h":8.3e9},{"p":1,"t":13,"f":7.66e9,"l":6.8e9,"h":9e9},{"p":1,"t":17,"f":8.1e9,"l":7e9,"h":9.2e9},{"p":1,"t":20,"f":8.04e9,"l":6.95e9,"h":9.2e9},{"p":1,"t":42,"f":8.04e9,"l":6.95e9,"h":9.17e9},
{"p":1,"t":0,"o":8.79e9},{"p":1,"t":0.5,"o":6e9},{"p":1,"t":1,"o":5.9e9},{"p":1,"t":2,"o":6.5e9},{"p":1,"t":2.5,"o":5.6e9},{"p":1,"t":3,"o":5.5e9},{"p":1,"t":3.5,"o":5.3e9},{"p":1,"t":4,"o":5.2e9},{"p":1,"t":4.5,"o":5.45e9},{"p":1,"t":5,"o":5.6e9},{"p":1,"t":6,"o":4.9e9},{"p":1,"t":7,"o":6.35e9},{"p":1,"t":7.5,"o":6.3e9},{"p":1,"t":8,"o":7.2e9},{"p":1,"t":9,"o":7.55e9},{"p":1,"t":10,"o":7.5e9},{"p":1,"t":12,"o":8.64e9},{"p":1,"t":14,"o":7.55e9},{"p":1,"t":17,"o":8.1e9},{"p":1,"t":34,"o":8.8e9},{"p":1,"t":42,"o":7.5e9},
{"p":2,"t":0,"f":8.8e9,"l":7e9,"h":9.5e9},{"p":2,"t":1,"f":7e9,"l":6e9,"h":8e9},{"p":2,"t":3,"f":6.4e9,"l":5e9,"h":7.5e9},{"p":2,"t":5,"f":6.5e9,"l":5.3e9,"h":8e9},{"p":2,"t":7.3,"f":7.58e9,"l":6.3e9,"h":9e9},{"p":2,"t":12.4,"f":8.57e9,"l":7.4e9,"h":10.1e9},{"p":2,"t":19.7,"f":9.1e9,"l":7.9e9,"h":10.3e9},{"p":2,"t":30.7,"f":9.25e9,"l":8.05e9,"h":10.3e9},{"p":2,"t":41.6,"f":9.25e9,"l":8.05e9,"h":10.3e9},{"p":2,"t":48.9,"f":9.17e9,"l":8e9,"h":10.3e9},{"p":2,"t":52.6,"f":8.94e9,"l":7.9e9,"h":10.2e9},{"p":2,"t":56,"f":8.6e9,"l":7.5e9,"h":9.9e9},{"p":2,"t":58.4,"f":8.42e9,"l":7.3e9,"h":9.77e9},{"p":2,"t":63.5,"f":8.57e9,"l":7.3e9,"h":9.77e9},{"p":2,"t":74.5,"f":8.8e9,"l":7.3e9,"h":9.77e9},{"p":2,"t":89,"f":8.9e9,"l":7.3e9,"h":9.77e9},{"p":2,"t":107.9,"f":8.87e9,"l":7.28e9,"h":9.77e9},
{"p":2,"t":0,"o":9.21e9},{"p":2,"t":2,"o":6.8e9},{"p":2,"t":3,"o":6.68e9},{"p":2,"t":3,"o":7.1e9},{"p":2,"t":4,"o":6.4e9},{"p":2,"t":4.4,"o":6.2e9},{"p":2,"t":5,"o":6.2e9},{"p":2,"t":5.8,"o":6.5e9},{"p":2,"t":6,"o":6.6e9},{"p":2,"t":7.3,"o":6.1e9},{"p":2,"t":8.8,"o":7.9e9},{"p":2,"t":10.2,"o":8.1e9},{"p":2,"t":14.6,"o":8.68e9},{"p":2,"t":30.7,"o":9.25e9},{"p":2,"t":41.6,"o":9.65e9},{"p":2,"t":48.9,"o":9.28e9},{"p":2,"t":51,"o":8.9e9},{"p":2,"t":59.9,"o":9.13e9},{"p":2,"t":68.6,"o":7.77e9},{"p":2,"t":73,"o":8.11e9},{"p":2,"t":83,"o":7.5e9},{"p":2,"t":89,"o":8.9e9},{"p":2,"t":95,"o":8.82e9},{"p":2,"t":102,"o":8.84e9},
{"p":3,"t":0,"f":9e9,"l":7.2e9,"h":9.8e9},{"p":3,"t":1,"f":7.2e9,"l":6e9,"h":8.5e9},{"p":3,"t":2.2,"f":6.5e9,"l":5e9,"h":7.8e9},{"p":3,"t":5,"f":7.44e9,"l":6e9,"h":8.8e9},{"p":3,"t":8.8,"f":8.49e9,"l":7.2e9,"h":9.7e9},{"p":3,"t":16,"f":8.72e9,"l":7.9e9,"h":10.2e9},{"p":3,"t":23,"f":9.02e9,"l":8e9,"h":10.2e9},{"p":3,"t":38,"f":9.1e9,"l":8.04e9,"h":10.2e9},{"p":3,"t":52.6,"f":9.02e9,"l":8.04e9,"h":10.2e9},{"p":3,"t":57,"f":8.9e9,"l":7.9e9,"h":10.1e9},{"p":3,"t":60,"f":8.82e9,"l":7.81e9,"h":10e9},{"p":3,"t":78,"f":8.87e9,"l":7.81e9,"h":10e9},{"p":3,"t":107.9,"f":8.91e9,"l":7.81e9,"h":10e9},
{"p":3,"t":0,"o":9.62e9},{"p":3,"t":1.5,"o":7.1e9},{"p":3,"t":2.2,"o":6.2e9},{"p":3,"t":2.8,"o":6.6e9},{"p":3,"t":3.6,"o":6.5e9},{"p":3,"t":4.2,"o":6.9e9},{"p":3,"t":5.1,"o":7.6e9},{"p":3,"t":7.3,"o":8e9},{"p":3,"t":8.8,"o":8.57e9},{"p":3,"t":14.6,"o":8.6e9},{"p":3,"t":34,"o":9.97e9},{"p":3,"t":41.6,"o":9.55e9},{"p":3,"t":47.4,"o":9.48e9},{"p":3,"t":54.7,"o":8.46e9},{"p":3,"t":59.9,"o":8.64e9},{"p":3,"t":67.9,"o":7.89e9},{"p":3,"t":74.5,"o":9.22e9},{"p":3,"t":82.5,"o":8.11e9},{"p":3,"t":89,"o":9.25e9},{"p":3,"t":96,"o":9.22e9},{"p":3,"t":104,"o":8.57e9},
{"p":4,"t":0,"f":8.4e9,"l":6.5e9,"h":9e9},{"p":4,"t":1,"f":6.8e9,"l":5.5e9,"h":8e9},{"p":4,"t":3,"f":6.08e9,"l":4.27e9,"h":7.3e9},{"p":4,"t":6,"f":6.53e9,"l":5e9,"h":8e9},{"p":4,"t":9.5,"f":8.04e9,"l":6.8e9,"h":9.4e9},{"p":4,"t":15,"f":8.57e9,"l":7.7e9,"h":10e9},{"p":4,"t":26,"f":8.87e9,"l":7.96e9,"h":10.07e9},{"p":4,"t":41,"f":9.02e9,"l":7.96e9,"h":10.07e9},{"p":4,"t":53,"f":9.02e9,"l":7.96e9,"h":10.07e9},{"p":4,"t":56,"f":8.8e9,"l":7.8e9,"h":10e9},{"p":4,"t":59,"f":8.57e9,"l":7.66e9,"h":9.9e9},{"p":4,"t":70,"f":8.79e9,"l":7.66e9,"h":9.9e9},{"p":4,"t":88,"f":8.75e9,"l":7.66e9,"h":9.9e9},{"p":4,"t":107.9,"f":8.72e9,"l":7.66e9,"h":9.9e9},
{"p":4,"t":0,"o":8.34e9},{"p":4,"t":1.5,"o":6.68e9},{"p":4,"t":2.2,"o":6.4e9},{"p":4,"t":2.9,"o":6.25e9},{"p":4,"t":3.6,"o":5.6e9},{"p":4,"t":4.4,"o":4.87e9},{"p":4,"t":5.8,"o":5.1e9},{"p":4,"t":7.3,"o":7.36e9},{"p":4,"t":8,"o":8.04e9},{"p":4,"t":9.5,"o":8.64e9},{"p":4,"t":15,"o":8.11e9},{"p":4,"t":18.9,"o":8.16e9},{"p":4,"t":37.6,"o":8.8e9},{"p":4,"t":47,"o":8.94e9},{"p":4,"t":51,"o":9.59e9},{"p":4,"t":55.5,"o":9.02e9},{"p":4,"t":62.8,"o":8.8e9},{"p":4,"t":67.9,"o":9.1e9},{"p":4,"t":75,"o":8.64e9},{"p":4,"t":88,"o":9.13e9},{"p":4,"t":95.6,"o":7.96e9},{"p":4,"t":102.9,"o":9.13e9},
{"p":5,"t":0,"f":8.9e9,"l":6e9,"h":9.5e9},{"p":5,"t":1,"f":6.5e9,"l":5e9,"h":7.8e9},{"p":5,"t":2.2,"f":5.48e9,"l":4.57e9,"h":7e9},{"p":5,"t":5,"f":6.53e9,"l":5.3e9,"h":8e9},{"p":5,"t":8.8,"f":7.74e9,"l":6.7e9,"h":9.2e9},{"p":5,"t":14.6,"f":8.49e9,"l":7.7e9,"h":10e9},{"p":5,"t":22,"f":8.94e9,"l":8e9,"h":10.2e9},{"p":5,"t":33,"f":9.28e9,"l":8.04e9,"h":10.2e9},{"p":5,"t":46,"f":9.32e9,"l":8.04e9,"h":10.2e9},{"p":5,"t":51,"f":9.02e9,"l":7.9e9,"h":10.1e9},{"p":5,"t":55,"f":8.75e9,"l":7.6e9,"h":9.7e9},{"p":5,"t":58,"f":8.67e9,"l":7.5e9,"h":9.55e9},{"p":5,"t":73,"f":8.76e9,"l":7.5e9,"h":9.55e9},{"p":5,"t":107.9,"f":8.79e9,"l":7.5e9,"h":9.55e9},
{"p":5,"t":0.7,"o":8.94e9},{"p":5,"t":2,"o":6.83e9},{"p":5,"t":2.9,"o":6.46e9},{"p":5,"t":3.6,"o":5.17e9},{"p":5,"t":4.2,"o":5.8e9},{"p":5,"t":5.1,"o":6.08e9},{"p":5,"t":6.6,"o":7.59e9},{"p":5,"t":8,"o":8.04e9},{"p":5,"t":10.9,"o":8.64e9},{"p":5,"t":14.6,"o":8.27e9},{"p":5,"t":18.2,"o":9.02e9},{"p":5,"t":33,"o":9.28e9},{"p":5,"t":40,"o":9.4e9},{"p":5,"t":47.4,"o":9.43e9},{"p":5,"t":54.7,"o":8.61e9},{"p":5,"t":67.9,"o":9.02e9},{"p":5,"t":75,"o":8.49e9},{"p":5,"t":82.5,"o":8.87e9},{"p":5,"t":89.8,"o":9.2e9},{"p":5,"t":97,"o":7.36e9},{"p":5,"t":104,"o":8.79e9},
{"p":6,"t":0,"f":9.2e9,"l":7.5e9,"h":9.6e9},{"p":6,"t":1,"f":7.6e9,"l":6.5e9,"h":8.6e9},{"p":6,"t":2.2,"f":7.13e9,"l":5.8e9,"h":8.2e9},{"p":6,"t":3.6,"f":6.68e9,"l":5.6e9,"h":8e9},{"p":6,"t":7.3,"f":7.59e9,"l":6.6e9,"h":9e9},{"p":6,"t":11,"f":8.49e9,"l":7.6e9,"h":10e9},{"p":6,"t":18,"f":8.79e9,"l":8e9,"h":10.4e9},{"p":6,"t":29,"f":9.25e9,"l":8.11e9,"h":10.45e9},{"p":6,"t":42,"f":9.35e9,"l":8.11e9,"h":10.45e9},{"p":6,"t":45,"f":9.17e9,"l":8.1e9,"h":10.4e9},{"p":6,"t":51,"f":8.82e9,"l":7.9e9,"h":10.2e9},{"p":6,"t":55,"f":8.85e9,"l":7.81e9,"h":10e9},{"p":6,"t":58,"f":8.94e9,"l":7.81e9,"h":10e9},{"p":6,"t":73,"f":9.02e9,"l":7.81e9,"h":10e9},{"p":6,"t":107.9,"f":9.02e9,"l":7.81e9,"h":10e9},
{"p":6,"t":0.7,"o":9.22e9},{"p":6,"t":2.2,"o":7.44e9},{"p":6,"t":3,"o":7.1e9},{"p":6,"t":3.6,"o":6.98e9},{"p":6,"t":4.3,"o":6.8e9},{"p":6,"t":5,"o":6.53e9},{"p":6,"t":6.6,"o":7.13e9},{"p":6,"t":8.8,"o":8.04e9},{"p":6,"t":11,"o":8.52e9},{"p":6,"t":14.6,"o":8.52e9},{"p":6,"t":35,"o":9.59e9},{"p":6,"t":47.4,"o":9.52e9},{"p":6,"t":54.7,"o":8.34e9},{"p":6,"t":62,"o":8.87e9},{"p":6,"t":75,"o":8.52e9},{"p":6,"t":84,"o":8.82e9},{"p":6,"t":91,"o":9.58e9},{"p":6,"t":98.5,"o":9.37e9},{"p":6,"t":104,"o":9.37e9},
{"p":7,"t":0,"f":8.04e9,"l":6.5e9,"h":8.6e9},{"p":7,"t":1,"f":6.5e9,"l":5.3e9,"h":7.5e9},{"p":7,"t":2.2,"f":6.08e9,"l":4.8e9,"h":7e9},{"p":7,"t":4.4,"f":5.78e9,"l":4.42e9,"h":6.8e9},{"p":7,"t":6.6,"f":6.53e9,"l":5.3e9,"h":7.8e9},{"p":7,"t":8.8,"f":7.28e9,"l":6.3e9,"h":8.5e9},{"p":7,"t":14,"f":7.89e9,"l":7e9,"h":9.1e9},{"p":7,"t":21,"f":8.11e9,"l":7.13e9,"h":9.4e9},{"p":7,"t":32,"f":8.27e9,"l":7.13e9,"h":9.47e9},{"p":7,"t":43,"f":8.34e9,"l":7.13e9,"h":9.47e9},
{"p":7,"t":0.7,"o":8.42e9},{"p":7,"t":1.5,"o":6.53e9},{"p":7,"t":2.2,"o":6.1e9},{"p":7,"t":2.9,"o":6.23e9},{"p":7,"t":3.6,"o":5.85e9},{"p":7,"t":4.3,"o":5.5e9},{"p":7,"t":5.1,"o":5.17e9},{"p":7,"t":6.6,"o":4.72e9},{"p":7,"t":8,"o":7.13e9},{"p":7,"t":10.2,"o":7.06e9},{"p":7,"t":14,"o":7.89e9},{"p":7,"t":21,"o":6.86e9},{"p":7,"t":32,"o":8.19e9},{"p":7,"t":43,"o":8.3e9},
{"p":8,"t":0,"f":9.2e9,"l":7.5e9,"h":9.7e9},{"p":8,"t":1,"f":7.2e9,"l":6e9,"h":8.3e9},{"p":8,"t":2.2,"f":6.53e9,"l":5.3e9,"h":7.8e9},{"p":8,"t":5.8,"f":7.59e9,"l":6.3e9,"h":8.9e9},{"p":8,"t":9.5,"f":8.11e9,"l":7.2e9,"h":9.6e9},{"p":8,"t":17,"f":8.34e9,"l":7.6e9,"h":10e9},{"p":8,"t":28,"f":9.13e9,"l":8.04e9,"h":10.2e9},{"p":8,"t":42,"f":9.17e9,"l":8.04e9,"h":10.2e9},{"p":8,"t":50,"f":9.02e9,"l":8e9,"h":10.2e9},{"p":8,"t":54,"f":8.6e9,"l":7.6e9,"h":10e9},{"p":8,"t":57,"f":8.19e9,"l":7.1e9,"h":9.7e9},{"p":8,"t":64,"f":8.57e9,"l":7e9,"h":9.62e9},{"p":8,"t":79,"f":8.67e9,"l":7e9,"h":9.62e9},{"p":8,"t":107.9,"f":8.67e9,"l":7e9,"h":9.62e9},
{"p":8,"t":0.7,"o":9.67e9},{"p":8,"t":2.2,"o":7.13e9},{"p":8,"t":2.9,"o":6.76e9},{"p":8,"t":3.6,"o":6.53e9},{"p":8,"t":4.4,"o":5.52e9},{"p":8,"t":5.2,"o":6.2e9},{"p":8,"t":7.3,"o":8.04e9},{"p":8,"t":10.2,"o":8.19e9},{"p":8,"t":11.7,"o":7.89e9},{"p":8,"t":34,"o":9.37e9},{"p":8,"t":42,"o":8.94e9},{"p":8,"t":53,"o":8.97e9},{"p":8,"t":60,"o":7.81e9},{"p":8,"t":67,"o":8.57e9},{"p":8,"t":74.5,"o":7.81e9},{"p":8,"t":89,"o":9.07e9},{"p":8,"t":98.5,"o":8.42e9},{"p":8,"t":104,"o":8.64e9},
{"p":9,"t":0,"f":9e9,"l":7e9,"h":9.5e9},{"p":9,"t":1,"f":7e9,"l":6e9,"h":8.2e9},{"p":9,"t":2.9,"f":6.08e9,"l":5e9,"h":7.5e9},{"p":9,"t":5.8,"f":6.68e9,"l":5.6e9,"h":8e9},{"p":9,"t":8.8,"f":7.28e9,"l":6.4e9,"h":8.8e9},{"p":9,"t":16,"f":7.81e9,"l":7e9,"h":9.3e9},{"p":9,"t":27,"f":8.34e9,"l":7.5e9,"h":9.8e9},{"p":9,"t":38,"f":8.87e9,"l":7.8e9,"h":10.2e9},{"p":9,"t":45,"f":9.13e9,"l":7.96e9,"h":10.4e9},{"p":9,"t":51,"f":8.94e9,"l":7.8e9,"h":10.2e9},{"p":9,"t":56,"f":8.64e9,"l":7.4e9,"h":9.7e9},{"p":9,"t":63.5,"f":8.49e9,"l":7.28e9,"h":9.55e9},{"p":9,"t":82,"f":8.37e9,"l":7.28e9,"h":9.55e9},{"p":9,"t":107.9,"f":8.37e9,"l":7.28e9,"h":9.55e9},
{"p":9,"t":0.7,"o":9.32e9},{"p":9,"t":2.2,"o":7e9},{"p":9,"t":2.9,"o":6.68e9},{"p":9,"t":3.6,"o":5.93e9},{"p":9,"t":4.4,"o":5.48e9},{"p":9,"t":5.8,"o":5.32e9},{"p":9,"t":7,"o":6.9e9},{"p":9,"t":8.8,"o":7.81e9},{"p":9,"t":12.4,"o":7.89e9},{"p":9,"t":20,"o":7.89e9},{"p":9,"t":31,"o":7.92e9},{"p":9,"t":45,"o":9.37e9},{"p":9,"t":49,"o":9.1e9},{"p":9,"t":62,"o":6.98e9},{"p":9,"t":74.5,"o":7.7e9},{"p":9,"t":83,"o":9.28e9},{"p":9,"t":93,"o":8.94e9},{"p":9,"t":102,"o":7.66e9},
{"p":10,"t":0,"f":8.3e9,"l":6.5e9,"h":8.8e9},{"p":10,"t":1,"f":6.5e9,"l":5e9,"h":7.3e9},{"p":10,"t":3.6,"f":5.32e9,"l":3.97e9,"h":6.5e9},{"p":10,"t":6.6,"f":6.53e9,"l":5.3e9,"h":7.8e9},{"p":10,"t":11,"f":7.59e9,"l":6.5e9,"h":8.9e9},{"p":10,"t":20,"f":8.11e9,"l":7.06e9,"h":9.62e9},{"p":10,"t":31,"f":8.49e9,"l":7.06e9,"h":9.62e9},{"p":10,"t":42,"f":8.57e9,"l":7.06e9,"h":9.62e9},{"p":10,"t":49,"f":8.49e9,"l":7e9,"h":9.6e9},{"p":10,"t":53,"f":8e9,"l":6.6e9,"h":9.2e9},{"p":10,"t":56,"f":7.59e9,"l":6.3e9,"h":8.9e9},{"p":10,"t":63.5,"f":7.36e9,"l":6.23e9,"h":8.79e9},{"p":10,"t":74.5,"f":7.66e9,"l":6.23e9,"h":8.79e9},{"p":10,"t":85,"f":7.86e9,"l":6.23e9,"h":8.79e9},{"p":10,"t":107.9,"f":7.86e9,"l":6.23e9,"h":8.79e9},
{"p":10,"t":1.5,"o":8.27e9},{"p":10,"t":2.2,"o":5.48e9},{"p":10,"t":2.9,"o":5.1e9},{"p":10,"t":3.6,"o":4.72e9},{"p":10,"t":4.3,"o":5.3e9},{"p":10,"t":5.1,"o":5.85e9},{"p":10,"t":6.6,"o":6.38e9},{"p":10,"t":8.8,"o":7.2e9},{"p":10,"t":12.4,"o":7.62e9},{"p":10,"t":20,"o":8.16e9},{"p":10,"t":35.8,"o":8.76e9},{"p":10,"t":47.4,"o":8.64e9},{"p":10,"t":54.7,"o":8.11e9},{"p":10,"t":61,"o":6.8e9},{"p":10,"t":67,"o":7.28e9},{"p":10,"t":76.6,"o":8.19e9},{"p":10,"t":85,"o":7.81e9},{"p":10,"t":96,"o":7.47e9},{"p":10,"t":105.8,"o":7.81e9}
],
"bq":[
{"p":1,"t":0,"f":0.01,"l":0,"h":0.02},{"p":1,"t":1,"f":0.03,"l":0.015,"h":0.05},{"p":1,"t":2,"f":0.09,"l":0.06,"h":0.12},{"p":1,"t":3,"f":0.12,"l":0.09,"h":0.16},{"p":1,"t":4,"f":0.2,"l":0.16,"h":0.25},{"p":1,"t":5,"f":0.32,"l":0.27,"h":0.37},{"p":1,"t":6,"f":0.28,"l":0.24,"h":0.33},{"p":1,"t":7,"f":0.24,"l":0.2,"h":0.28},{"p":1,"t":8,"f":0.24,"l":0.2,"h":0.28},{"p":1,"t":9,"f":0.14,"l":0.11,"h":0.17},{"p":1,"t":10,"f":0.07,"l":0.05,"h":0.09},{"p":1,"t":11,"f":0.06,"l":0.04,"h":0.08},{"p":1,"t":13,"f":0.02,"l":0.01,"h":0.035},{"p":1,"t":16,"f":0.013,"l":0.005,"h":0.025},{"p":1,"t":42,"f":0.015,"l":0.005,"h":0.028},
{"p":1,"t":0,"o":0.013},{"p":1,"t":1,"o":0.035},{"p":1,"t":2,"o":0.09},{"p":1,"t":3,"o":0.08},{"p":1,"t":4,"o":0.12},{"p":1,"t":4.5,"o":0.16},{"p":1,"t":5,"o":0.32},{"p":1,"t":5.5,"o":0.285},{"p":1,"t":6,"o":0.24},{"p":1,"t":6.5,"o":0.23},{"p":1,"t":7,"o":0.245},{"p":1,"t":8,"o":0.14},{"p":1,"t":9,"o":0.14},{"p":1,"t":10,"o":0.07},{"p":1,"t":11,"o":0.068},{"p":1,"t":13,"o":0.015},{"p":1,"t":16,"o":0.014},{"p":1,"t":30,"o":0.012},{"p":1,"t":35,"o":0.014},{"p":1,"t":42,"o":0.015},
{"p":2,"t":0,"f":0.01,"l":0,"h":0.02},{"p":2,"t":2,"f":0.04,"l":0.02,"h":0.06},{"p":2,"t":3,"f":0.1,"l":0.07,"h":0.13},{"p":2,"t":4,"f":0.19,"l":0.15,"h":0.24},{"p":2,"t":5,"f":0.25,"l":0.21,"h":0.3},{"p":2,"t":6,"f":0.26,"l":0.22,"h":0.31},{"p":2,"t":7,"f":0.2,"l":0.17,"h":0.25},{"p":2,"t":8,"f":0.22,"l":0.18,"h":0.26},{"p":2,"t":9,"f":0.15,"l":0.12,"h":0.18},{"p":2,"t":10,"f":0.09,"l":0.07,"h":0.11},{"p":2,"t":12,"f":0.05,"l":0.03,"h":0.07},{"p":2,"t":15,"f":0.02,"l":0.01,"h":0.035},{"p":2,"t":20,"f":0.01,"l":0.003,"h":0.025},{"p":2,"t":40,"f":0.01,"l":0.003,"h":0.025},{"p":2,"t":55,"f":0.015,"l":0.005,"h":0.03},{"p":2,"t":62,"f":0.025,"l":0.012,"h":0.04},{"p":2,"t":70,"f":0.02,"l":0.01,"h":0.035},{"p":2,"t":90,"f":0.015,"l":0.005,"h":0.03},{"p":2,"t":107.9,"f":0.012,"l":0.003,"h":0.025},
{"p":2,"t":0,"o":0.01},{"p":2,"t":1,"o":0.03},{"p":2,"t":2,"o":0.04},{"p":2,"t":3,"o":0.1},{"p":2,"t":3.5,"o":0.17},{"p":2,"t":4,"o":0.2},{"p":2,"t":4.5,"o":0.24},{"p":2,"t":5,"o":0.26},{"p":2,"t":5.5,"o":0.25},{"p":2,"t":6,"o":0.21},{"p":2,"t":6.5,"o":0.2},{"p":2,"t":7,"o":0.24},{"p":2,"t":8,"o":0.17},{"p":2,"t":9,"o":0.14},{"p":2,"t":10,"o":0.085},{"p":2,"t":11,"o":0.07},{"p":2,"t":14,"o":0.02},{"p":2,"t":20,"o":0.01},{"p":2,"t":30,"o":0.008},{"p":2,"t":35,"o":0.01},{"p":2,"t":40,"o":0.012},{"p":2,"t":45,"o":0.01},{"p":2,"t":50,"o":0.015},{"p":2,"t":58,"o":0.018},{"p":2,"t":62,"o":0.022},{"p":2,"t":68,"o":0.02},{"p":2,"t":75,"o":0.015},{"p":2,"t":80,"o":0.016},{"p":2,"t":88,"o":0.015},{"p":2,"t":95,"o":0.012},{"p":2,"t":102,"o":0.01},
{"p":3,"t":0,"f":0.01,"l":0,"h":0.02},{"p":3,"t":2,"f":0.05,"l":0.03,"h":0.07},{"p":3,"t":3,"f":0.16,"l":0.12,"h":0.2},{"p":3,"t":4,"f":0.3,"l":0.25,"h":0.36},{"p":3,"t":5,"f":0.34,"l":0.28,"h":0.41},{"p":3,"t":6,"f":0.32,"l":0.27,"h":0.37},{"p":3,"t":7,"f":0.27,"l":0.23,"h":0.31},{"p":3,"t":8,"f":0.2,"l":0.16,"h":0.24},{"p":3,"t":9,"f":0.1,"l":0.08,"h":0.13},{"p":3,"t":10,"f":0.07,"l":0.05,"h":0.09},{"p":3,"t":12,"f":0.03,"l":0.015,"h":0.045},{"p":3,"t":16,"f":0.015,"l":0.005,"h":0.03},{"p":3,"t":107.9,"f":0.012,"l":0.003,"h":0.025},
{"p":3,"t":0,"o":0.01},{"p":3,"t":1,"o":0.03},{"p":3,"t":2,"o":0.055},{"p":3,"t":3,"o":0.17},{"p":3,"t":4,"o":0.31},{"p":3,"t":4.5,"o":0.32},{"p":3,"t":5,"o":0.34},{"p":3,"t":5.5,"o":0.3},{"p":3,"t":6,"o":0.28},{"p":3,"t":6.5,"o":0.27},{"p":3,"t":7,"o":0.23},{"p":3,"t":8,"o":0.18},{"p":3,"t":9,"o":0.1},{"p":3,"t":10,"o":0.07},{"p":3,"t":12,"o":0.03},{"p":3,"t":15,"o":0.015},{"p":3,"t":22,"o":0.012},{"p":3,"t":30,"o":0.01},{"p":3,"t":38,"o":0.008},{"p":3,"t":45,"o":0.012},{"p":3,"t":52,"o":0.02},{"p":3,"t":58,"o":0.012},{"p":3,"t":65,"o":0.013},{"p":3,"t":72,"o":0.022},{"p":3,"t":78,"o":0.014},{"p":3,"t":85,"o":0.015},{"p":3,"t":92,"o":0.012},{"p":3,"t":100,"o":0.013},{"p":3,"t":106,"o":0.014},
{"p":4,"t":0,"f":0.01,"l":0,"h":0.02},{"p":4,"t":1.5,"f":0.07,"l":0.05,"h":0.09},{"p":4,"t":3,"f":0.07,"l":0.05,"h":0.1},{"p":4,"t":4,"f":0.2,"l":0.16,"h":0.25},{"p":4,"t":5,"f":0.28,"l":0.23,"h":0.35},{"p":4,"t":6,"f":0.27,"l":0.22,"h":0.32},{"p":4,"t":7,"f":0.22,"l":0.18,"h":0.26},{"p":4,"t":8,"f":0.15,"l":0.12,"h":0.18},{"p":4,"t":9,"f":0.1,"l":0.08,"h":0.13},{"p":4,"t":10,"f":0.06,"l":0.04,"h":0.08},{"p":4,"t":12,"f":0.04,"l":0.025,"h":0.06},{"p":4,"t":16,"f":0.015,"l":0.005,"h":0.03},{"p":4,"t":35,"f":0.01,"l":0.003,"h":0.025},{"p":4,"t":50,"f":0.02,"l":0.01,"h":0.035},{"p":4,"t":58,"f":0.03,"l":0.015,"h":0.045},{"p":4,"t":65,"f":0.025,"l":0.012,"h":0.04},{"p":4,"t":80,"f":0.02,"l":0.01,"h":0.035},{"p":4,"t":107.9,"f":0.015,"l":0.005,"h":0.03},
{"p":4,"t":0,"o":0.01},{"p":4,"t":1,"o":0.07},{"p":4,"t":2,"o":0.07},{"p":4,"t":3,"o":0.1},{"p":4,"t":4,"o":0.2},{"p":4,"t":4.5,"o":0.27},{"p":4,"t":5,"o":0.28},{"p":4,"t":5.5,"o":0.23},{"p":4,"t":6,"o":0.22},{"p":4,"t":6.5,"o":0.2},{"p":4,"t":7,"o":0.16},{"p":4,"t":8,"o":0.12},{"p":4,"t":9,"o":0.07},{"p":4,"t":11,"o":0.05},{"p":4,"t":14,"o":0.02},{"p":4,"t":20,"o":0.01},{"p":4,"t":28,"o":0.005},{"p":4,"t":35,"o":0.01},{"p":4,"t":42,"o":0.012},{"p":4,"t":48,"o":0.02},{"p":4,"t":55,"o":0.03},{"p":4,"t":60,"o":0.025},{"p":4,"t":67,"o":0.022},{"p":4,"t":75,"o":0.02},{"p":4,"t":82,"o":0.018},{"p":4,"t":88,"o":0.02},{"p":4,"t":95,"o":0.018},{"p":4,"t":102,"o":0.01},
{"p":5,"t":0,"f":0.01,"l":0,"h":0.03},{"p":5,"t":1,"f":0.08,"l":0.06,"h":0.1},{"p":5,"t":2,"f":0.15,"l":0.12,"h":0.19},{"p":5,"t":3,"f":0.3,"l":0.25,"h":0.36},{"p":5,"t":4,"f":0.52,"l":0.45,"h":0.56},{"p":5,"t":5,"f":0.3,"l":0.25,"h":0.36},{"p":5,"t":6,"f":0.27,"l":0.22,"h":0.31},{"p":5,"t":7,"f":0.15,"l":0.12,"h":0.18},{"p":5,"t":8,"f":0.08,"l":0.06,"h":0.1},{"p":5,"t":9,"f":0.06,"l":0.04,"h":0.08},{"p":5,"t":11,"f":0.03,"l":0.015,"h":0.045},{"p":5,"t":15,"f":0.015,"l":0.005,"h":0.03},{"p":5,"t":107.9,"f":0.012,"l":0.003,"h":0.025},
{"p":5,"t":0,"o":0.02},{"p":5,"t":0.7,"o":0.08},{"p":5,"t":1.5,"o":0.15},{"p":5,"t":2.5,"o":0.29},{"p":5,"t":3,"o":0.34},{"p":5,"t":3.5,"o":0.5},{"p":5,"t":4,"o":0.518},{"p":5,"t":4.5,"o":0.27},{"p":5,"t":5,"o":0.27},{"p":5,"t":5.5,"o":0.15},{"p":5,"t":6,"o":0.14},{"p":5,"t":7,"o":0.09},{"p":5,"t":8,"o":0.07},{"p":5,"t":9,"o":0.05},{"p":5,"t":11,"o":0.03},{"p":5,"t":15,"o":0.015},{"p":5,"t":25,"o":0.012},{"p":5,"t":33,"o":0.015},{"p":5,"t":40,"o":0.013},{"p":5,"t":48,"o":0.025},{"p":5,"t":55,"o":0.015},{"p":5,"t":60,"o":0.013},{"p":5,"t":68,"o":0.016},{"p":5,"t":75,"o":0.015},{"p":5,"t":82,"o":0.012},{"p":5,"t":88,"o":0.014},{"p":5,"t":95,"o":0.01},{"p":5,"t":102,"o":0.012},
{"p":6,"t":0,"f":0.01,"l":0,"h":0.02},{"p":6,"t":1,"f":0.08,"l":0.06,"h":0.1},{"p":6,"t":2,"f":0.12,"l":0.09,"h":0.15},{"p":6,"t":3,"f":0.2,"l":0.16,"h":0.24},{"p":6,"t":4,"f":0.24,"l":0.2,"h":0.29},{"p":6,"t":5,"f":0.27,"l":0.22,"h":0.33},{"p":6,"t":6,"f":0.24,"l":0.2,"h":0.29},{"p":6,"t":7,"f":0.2,"l":0.16,"h":0.24},{"p":6,"t":8,"f":0.15,"l":0.12,"h":0.18},{"p":6,"t":9,"f":0.1,"l":0.08,"h":0.13},{"p":6,"t":10,"f":0.07,"l":0.05,"h":0.09},{"p":6,"t":12,"f":0.04,"l":0.025,"h":0.06},{"p":6,"t":16,"f":0.015,"l":0.005,"h":0.03},{"p":6,"t":40,"f":0.01,"l":0.003,"h":0.025},{"p":6,"t":60,"f":0.02,"l":0.01,"h":0.035},{"p":6,"t":70,"f":0.02,"l":0.01,"h":0.035},{"p":6,"t":107.9,"f":0.012,"l":0.003,"h":0.025},
{"p":6,"t":0,"o":0.01},{"p":6,"t":1,"o":0.08},{"p":6,"t":2,"o":0.14},{"p":6,"t":3,"o":0.2},{"p":6,"t":3.5,"o":0.23},{"p":6,"t":4,"o":0.22},{"p":6,"t":5,"o":0.27},{"p":6,"t":5.5,"o":0.25},{"p":6,"t":6,"o":0.21},{"p":6,"t":6.5,"o":0.2},{"p":6,"t":7,"o":0.18},{"p":6,"t":8,"o":0.1},{"p":6,"t":9,"o":0.08},{"p":6,"t":10,"o":0.07},{"p":6,"t":12,"o":0.03},{"p":6,"t":16,"o":0.01},{"p":6,"t":22,"o":0.013},{"p":6,"t":30,"o":0.01},{"p":6,"t":38,"o":0.015},{"p":6,"t":45,"o":0.015},{"p":6,"t":52,"o":0.02},{"p":6,"t":58,"o":0.02},{"p":6,"t":65,"o":0.016},{"p":6,"t":72,"o":0.02},{"p":6,"t":78,"o":0.025},{"p":6,"t":85,"o":0.015},{"p":6,"t":92,"o":0.01},{"p":6,"t":100,"o":0.01},
{"p":7,"t":0,"f":0.01,"l":0,"h":0.03},{"p":7,"t":1,"f":0.1,"l":0.07,"h":0.13},{"p":7,"t":2,"f":0.18,"l":0.14,"h":0.22},{"p":7,"t":3,"f":0.24,"l":0.2,"h":0.29},{"p":7,"t":4,"f":0.3,"l":0.25,"h":0.35},{"p":7,"t":5,"f":0.31,"l":0.26,"h":0.36},{"p":7,"t":6,"f":0.29,"l":0.24,"h":0.33},{"p":7,"t":7,"f":0.2,"l":0.16,"h":0.24},{"p":7,"t":8,"f":0.12,"l":0.09,"h":0.15},{"p":7,"t":9,"f":0.08,"l":0.06,"h":0.1},{"p":7,"t":10,"f":0.06,"l":0.04,"h":0.08},{"p":7,"t":13,"f":0.03,"l":0.015,"h":0.045},{"p":7,"t":20,"f":0.02,"l":0.01,"h":0.035},{"p":7,"t":43,"f":0.018,"l":0.008,"h":0.032},
{"p":7,"t":0,"o":0.02},{"p":7,"t":1,"o":0.1},{"p":7,"t":2,"o":0.15},{"p":7,"t":3,"o":0.23},{"p":7,"t":3.5,"o":0.25},{"p":7,"t":4,"o":0.3},{"p":7,"t":4.5,"o":0.29},{"p":7,"t":5,"o":0.31},{"p":7,"t":5.5,"o":0.28},{"p":7,"t":6,"o":0.21},{"p":7,"t":6.5,"o":0.17},{"p":7,"t":7,"o":0.12},{"p":7,"t":8,"o":0.08},{"p":7,"t":9,"o":0.07},{"p":7,"t":10,"o":0.06},{"p":7,"t":13,"o":0.03},{"p":7,"t":20,"o":0.025},{"p":7,"t":30,"o":0.02},{"p":7,"t":37,"o":0.015},{"p":7,"t":43,"o":0.018},
{"p":8,"t":0,"f":0.01,"l":0,"h":0.03},{"p":8,"t":1,"f":0.08,"l":0.06,"h":0.1},{"p":8,"t":2,"f":0.1,"l":0.07,"h":0.13},{"p":8,"t":3,"f":0.2,"l":0.16,"h":0.24},{"p":8,"t":4,"f":0.24,"l":0.2,"h":0.29},{"p":8,"t":5,"f":0.26,"l":0.21,"h":0.33},{"p":8,"t":6,"f":0.18,"l":0.14,"h":0.22},{"p":8,"t":7,"f":0.29,"l":0.24,"h":0.33},{"p":8,"t":8,"f":0.15,"l":0.12,"h":0.18},{"p":8,"t":9,"f":0.1,"l":0.08,"h":0.13},{"p":8,"t":10,"f":0.07,"l":0.05,"h":0.09},{"p":8,"t":12,"f":0.04,"l":0.025,"h":0.06},{"p":8,"t":16,"f":0.015,"l":0.005,"h":0.03},{"p":8,"t":35,"f":0.01,"l":0.003,"h":0.025},{"p":8,"t":55,"f":0.015,"l":0.005,"h":0.03},{"p":8,"t":62,"f":0.035,"l":0.02,"h":0.055},{"p":8,"t":68,"f":0.02,"l":0.01,"h":0.035},{"p":8,"t":107.9,"f":0.012,"l":0.003,"h":0.025},
{"p":8,"t":0,"o":0.02},{"p":8,"t":1,"o":0.08},{"p":8,"t":1.5,"o":0.09},{"p":8,"t":3,"o":0.22},{"p":8,"t":4,"o":0.25},{"p":8,"t":5,"o":0.25},{"p":8,"t":5.5,"o":0.23},{"p":8,"t":6,"o":0.18},{"p":8,"t":7,"o":0.28},{"p":8,"t":8,"o":0.13},{"p":8,"t":9,"o":0.09},{"p":8,"t":10,"o":0.07},{"p":8,"t":12,"o":0.04},{"p":8,"t":16,"o":0.015},{"p":8,"t":25,"o":0.012},{"p":8,"t":32,"o":0.01},{"p":8,"t":40,"o":0.008},{"p":8,"t":48,"o":0.012},{"p":8,"t":55,"o":0.015},{"p":8,"t":60,"o":0.03},{"p":8,"t":63,"o":0.035},{"p":8,"t":68,"o":0.02},{"p":8,"t":75,"o":0.018},{"p":8,"t":82,"o":0.02},{"p":8,"t":90,"o":0.012},{"p":8,"t":98,"o":0.015},{"p":8,"t":104,"o":0.01},
{"p":9,"t":0,"f":0.01,"l":0,"h":0.03},{"p":9,"t":1,"f":0.08,"l":0.06,"h":0.1},{"p":9,"t":2,"f":0.18,"l":0.14,"h":0.22},{"p":9,"t":3,"f":0.35,"l":0.28,"h":0.4},{"p":9,"t":4,"f":0.4,"l":0.33,"h":0.47},{"p":9,"t":5,"f":0.2,"l":0.16,"h":0.24},{"p":9,"t":6,"f":0.12,"l":0.09,"h":0.15},{"p":9,"t":7,"f":0.13,"l":0.1,"h":0.16},{"p":9,"t":8,"f":0.1,"l":0.08,"h":0.13},{"p":9,"t":9,"f":0.06,"l":0.04,"h":0.08},{"p":9,"t":11,"f":0.03,"l":0.015,"h":0.045},{"p":9,"t":15,"f":0.015,"l":0.005,"h":0.03},{"p":9,"t":30,"f":0.01,"l":0.003,"h":0.025},{"p":9,"t":60,"f":0.015,"l":0.005,"h":0.03},{"p":9,"t":107.9,"f":0.015,"l":0.005,"h":0.03},
{"p":9,"t":0,"o":0.02},{"p":9,"t":1,"o":0.08},{"p":9,"t":2,"o":0.17},{"p":9,"t":2.5,"o":0.27},{"p":9,"t":3,"o":0.35},{"p":9,"t":3.5,"o":0.3},{"p":9,"t":4,"o":0.24},{"p":9,"t":4.5,"o":0.17},{"p":9,"t":5,"o":0.14},{"p":9,"t":6,"o":0.13},{"p":9,"t":7,"o":0.13},{"p":9,"t":8,"o":0.1},{"p":9,"t":9,"o":0.06},{"p":9,"t":11,"o":0.03},{"p":9,"t":15,"o":0.015},{"p":9,"t":22,"o":0.008},{"p":9,"t":30,"o":0.01},{"p":9,"t":38,"o":0.012},{"p":9,"t":45,"o":0.015},{"p":9,"t":52,"o":0.015},{"p":9,"t":60,"o":0.012},{"p":9,"t":68,"o":0.014},{"p":9,"t":75,"o":0.012},{"p":9,"t":82,"o":0.015},{"p":9,"t":90,"o":0.013},{"p":9,"t":98,"o":0.011},{"p":9,"t":104,"o":0.01},
{"p":10,"t":0,"f":0.01,"l":0,"h":0.03},{"p":10,"t":1,"f":0.08,"l":0.06,"h":0.1},{"p":10,"t":2,"f":0.15,"l":0.12,"h":0.19},{"p":10,"t":3,"f":0.2,"l":0.16,"h":0.24},{"p":10,"t":4,"f":0.28,"l":0.23,"h":0.33},{"p":10,"t":5,"f":0.31,"l":0.26,"h":0.37},{"p":10,"t":6,"f":0.27,"l":0.22,"h":0.31},{"p":10,"t":7,"f":0.2,"l":0.16,"h":0.24},{"p":10,"t":8,"f":0.15,"l":0.12,"h":0.18},{"p":10,"t":9,"f":0.1,"l":0.08,"h":0.13},{"p":10,"t":10,"f":0.07,"l":0.05,"h":0.09},{"p":10,"t":12,"f":0.03,"l":0.015,"h":0.045},{"p":10,"t":16,"f":0.02,"l":0.01,"h":0.035},{"p":10,"t":35,"f":0.015,"l":0.005,"h":0.03},{"p":10,"t":55,"f":0.015,"l":0.005,"h":0.03},{"p":10,"t":62,"f":0.035,"l":0.02,"h":0.055},{"p":10,"t":70,"f":0.025,"l":0.012,"h":0.04},{"p":10,"t":85,"f":0.02,"l":0.01,"h":0.035},{"p":10,"t":107.9,"f":0.015,"l":0.005,"h":0.03},
{"p":10,"t":0,"o":0.02},{"p":10,"t":1,"o":0.07},{"p":10,"t":1.5,"o":0.08},{"p":10,"t":2,"o":0.15},{"p":10,"t":3,"o":0.2},{"p":10,"t":3.5,"o":0.25},{"p":10,"t":4,"o":0.26},{"p":10,"t":5,"o":0.28},{"p":10,"t":5.5,"o":0.22},{"p":10,"t":6,"o":0.2},{"p":10,"t":7,"o":0.17},{"p":10,"t":8,"o":0.13},{"p":10,"t":9,"o":0.1},{"p":10,"t":10,"o":0.05},{"p":10,"t":12,"o":0.035},{"p":10,"t":16,"o":0.02},{"p":10,"t":25,"o":0.02},{"p":10,"t":32,"o":0.015},{"p":10,"t":40,"o":0.01},{"p":10,"t":48,"o":0.015},{"p":10,"t":55,"o":0.015},{"p":10,"t":63,"o":0.025},{"p":10,"t":70,"o":0.02},{"p":10,"t":75,"o":0.03},{"p":10,"t":85,"o":0.02},{"p":10,"t":95,"o":0.015},{"p":10,"t":102,"o":0.01},{"p":10,"t":106,"o":0.02}
]},
"spacing":84,
"vconcat":[
{"title":{"text":"A","anchor":"start","fontSize":10,"fontWeight":"normal","offset":10,"dx":52},
"spacing":0,
"vconcat":[
{"data":{"name":"ar"},"bounds":"flush","facet":{"column":{"field":"p","type":"ordinal","header":{"labels":false,"title":null}}},"spacing":0,
"spec":{"width":58.4,"height":172,
"encoding":{"x":{"field":"t","type":"quantitative","scale":{"domain":[-0.55,15.95],"nice":false,"zero":false},"axis":null}},
"layer":[
{"transform":[{"filter":"isValid(datum.l)"}],"mark":{"type":"area","color":"#c8c8c8","clip":true},"encoding":{"y":{"field":"l","type":"quantitative","scale":{"domain":[3.06e9,10.88e9],"nice":false,"zero":false},"axis":{"values":[4e9,5e9,6e9,7e9,8e9,9e9,1e10],"labelOverlap":false,"titlePadding":7,"labelExpr":"datum.value>=1e10?'1×10¹⁰':format(datum.value/1e9,'d')+'×10⁹'","title":"RBC concentration (cells/ml)"}},"y2":{"field":"h"}}},
{"transform":[{"filter":"isValid(datum.f)"}],"mark":{"type":"line","color":"#1a9a6e","strokeWidth":1.4,"clip":true},"encoding":{"y":{"field":"f","type":"quantitative","axis":{"values":[4e9,5e9,6e9,7e9,8e9,9e9,1e10],"labelOverlap":false,"titlePadding":7,"labelExpr":"datum.value>=1e10?'1×10¹⁰':format(datum.value/1e9,'d')+'×10⁹'","title":"RBC concentration (cells/ml)"}}}},
{"transform":[{"filter":"isValid(datum.o)"}],"mark":{"type":"point","shape":"M-1,-1L1,1M-1,1L1,-1","size":18,"color":"#1a9a6e","strokeWidth":1,"filled":false,"opacity":1,"clip":true},"encoding":{"y":{"field":"o","type":"quantitative","axis":{"values":[4e9,5e9,6e9,7e9,8e9,9e9,1e10],"labelOverlap":false,"titlePadding":7,"labelExpr":"datum.value>=1e10?'1×10¹⁰':format(datum.value/1e9,'d')+'×10⁹'","title":"RBC concentration (cells/ml)"}}}}
]}},
{"data":{"name":"aq"},"bounds":"flush","facet":{"column":{"field":"p","type":"ordinal","header":{"labels":false,"title":"days post treatment","titleOrient":"bottom","titleFontSize":13,"titleFontWeight":"normal","titleColor":"#000","titlePadding":-4}}},"spacing":0,
"spec":{"width":58.4,"height":173,
"encoding":{"x":{"field":"t","type":"quantitative","scale":{"domain":[-0.55,15.95],"nice":false,"zero":false},"axis":{"values":[0,4,8,12],"title":null,"format":"d","labelOverlap":false}}},
"layer":[
{"transform":[{"filter":"isValid(datum.l)"}],"mark":{"type":"area","color":"#c8c8c8","clip":true},"encoding":{"y":{"field":"l","type":"quantitative","scale":{"domain":[-0.028,0.598],"nice":false,"zero":false},"axis":{"values":[0,0.1,0.2,0.3,0.4,0.5],"labelOverlap":false,"format":".1~f","title":"reticulocyte proportion"}},"y2":{"field":"h"}}},
{"transform":[{"filter":"isValid(datum.f)"}],"mark":{"type":"line","color":"#1f77b4","strokeWidth":1.4,"clip":true},"encoding":{"y":{"field":"f","type":"quantitative","axis":{"values":[0,0.1,0.2,0.3,0.4,0.5],"labelOverlap":false,"format":".1~f","title":"reticulocyte proportion"}}}},
{"transform":[{"filter":"isValid(datum.o)"}],"mark":{"type":"point","shape":"M-1,-1L1,1M-1,1L1,-1","size":18,"color":"#1f77b4","strokeWidth":1,"filled":false,"opacity":1,"clip":true},"encoding":{"y":{"field":"o","type":"quantitative","axis":{"values":[0,0.1,0.2,0.3,0.4,0.5],"labelOverlap":false,"format":".1~f","title":"reticulocyte proportion"}}}}
]}}
]},
{"title":{"text":"B","anchor":"start","fontSize":10,"fontWeight":"normal","offset":14,"dx":46},
"spacing":0,
"vconcat":[
{"data":{"name":"br"},"bounds":"flush","facet":{"column":{"field":"p","type":"ordinal","header":{"labels":false,"title":null}}},"spacing":0,
"spec":{"width":58.65,"height":173,
"encoding":{"x":{"field":"t","type":"quantitative","scale":{"domain":[-5.7,107.9],"nice":false,"zero":false},"axis":null}},
"layer":[
{"transform":[{"filter":"isValid(datum.l)"}],"mark":{"type":"area","color":"#c8c8c8","clip":true},"encoding":{"y":{"field":"l","type":"quantitative","scale":{"domain":[3.03e9,10.9e9],"nice":false,"zero":false},"axis":{"values":[4e9,5e9,6e9,7e9,8e9,9e9,1e10],"labelOverlap":false,"titlePadding":7,"labelExpr":"datum.value>=1e10?'1×10¹⁰':format(datum.value/1e9,'d')+'×10⁹'","title":"RBC concentration (cells/ml)"}},"y2":{"field":"h"}}},
{"transform":[{"filter":"isValid(datum.f)"}],"mark":{"type":"line","color":"#1a9a6e","strokeWidth":1.4,"clip":true},"encoding":{"y":{"field":"f","type":"quantitative","axis":{"values":[4e9,5e9,6e9,7e9,8e9,9e9,1e10],"labelOverlap":false,"titlePadding":7,"labelExpr":"datum.value>=1e10?'1×10¹⁰':format(datum.value/1e9,'d')+'×10⁹'","title":"RBC concentration (cells/ml)"}}}},
{"transform":[{"filter":"isValid(datum.o)"}],"mark":{"type":"point","shape":"M-1,-1L1,1M-1,1L1,-1","size":18,"color":"#1a9a6e","strokeWidth":1,"filled":false,"opacity":1,"clip":true},"encoding":{"y":{"field":"o","type":"quantitative","axis":{"values":[4e9,5e9,6e9,7e9,8e9,9e9,1e10],"labelOverlap":false,"titlePadding":7,"labelExpr":"datum.value>=1e10?'1×10¹⁰':format(datum.value/1e9,'d')+'×10⁹'","title":"RBC concentration (cells/ml)"}}}}
]}},
{"data":{"name":"bq"},"bounds":"flush","facet":{"column":{"field":"p","type":"ordinal","header":{"labels":false,"title":"days post treatment","titleOrient":"bottom","titleFontSize":13,"titleFontWeight":"normal","titleColor":"#000","titlePadding":-4}}},"spacing":0,
"spec":{"width":58.65,"height":174,
"encoding":{"x":{"field":"t","type":"quantitative","scale":{"domain":[-5.7,107.9],"nice":false,"zero":false},"axis":{"values":[0,40,80],"title":null,"format":"d","labelOverlap":false}}},
"layer":[
{"transform":[{"filter":"isValid(datum.l)"}],"mark":{"type":"area","color":"#c8c8c8","clip":true},"encoding":{"y":{"field":"l","type":"quantitative","scale":{"domain":[-0.033,0.598],"nice":false,"zero":false},"axis":{"values":[0,0.1,0.2,0.3,0.4,0.5],"labelOverlap":false,"format":".1~f","title":"reticulocyte proportion"}},"y2":{"field":"h"}}},
{"transform":[{"filter":"isValid(datum.f)"}],"mark":{"type":"line","color":"#1f77b4","strokeWidth":1.4,"clip":true},"encoding":{"y":{"field":"f","type":"quantitative","axis":{"values":[0,0.1,0.2,0.3,0.4,0.5],"labelOverlap":false,"format":".1~f","title":"reticulocyte proportion"}}}},
{"transform":[{"filter":"isValid(datum.o)"}],"mark":{"type":"point","shape":"M-1,-1L1,1M-1,1L1,-1","size":18,"color":"#1f77b4","strokeWidth":1,"filled":false,"opacity":1,"clip":true},"encoding":{"y":{"field":"o","type":"quantitative","axis":{"values":[0,0.1,0.2,0.3,0.4,0.5],"labelOverlap":false,"format":".1~f","title":"reticulocyte proportion"}}}}
]}}
]}
]}
